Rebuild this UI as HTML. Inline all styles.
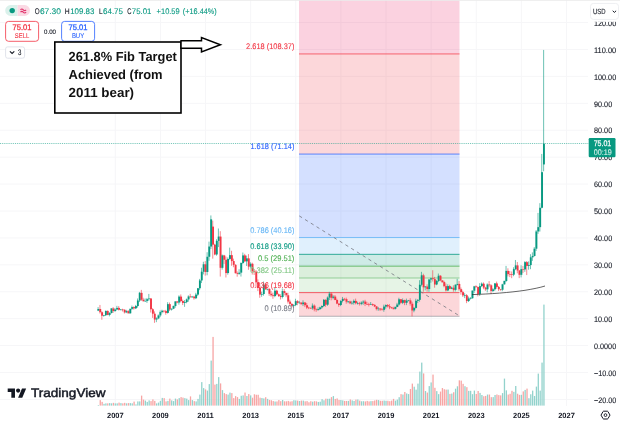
<!DOCTYPE html>
<html><head><meta charset="utf-8"><title>Chart</title>
<style>
html,body{margin:0;padding:0;background:#fff;}
body{width:620px;height:423px;overflow:hidden;position:relative;font-family:"Liberation Sans",sans-serif;}
svg{position:absolute;left:0;top:0;display:block;will-change:transform;opacity:0.999}
text{font-family:"Liberation Sans",sans-serif;text-rendering:geometricPrecision;}
</style></head><body>
<svg width="620" height="423" viewBox="0 0 620 423">
<rect width="620" height="423" fill="#ffffff"/>
<line x1="0" y1="399.44" x2="588" y2="399.44" stroke="#f6f6f8" stroke-width="1"/>
<line x1="0" y1="372.52" x2="588" y2="372.52" stroke="#f6f6f8" stroke-width="1"/>
<line x1="0" y1="345.60" x2="588" y2="345.60" stroke="#f6f6f8" stroke-width="1"/>
<line x1="0" y1="318.68" x2="588" y2="318.68" stroke="#f6f6f8" stroke-width="1"/>
<line x1="0" y1="291.76" x2="588" y2="291.76" stroke="#f6f6f8" stroke-width="1"/>
<line x1="0" y1="264.84" x2="588" y2="264.84" stroke="#f6f6f8" stroke-width="1"/>
<line x1="0" y1="237.92" x2="588" y2="237.92" stroke="#f6f6f8" stroke-width="1"/>
<line x1="0" y1="211.00" x2="588" y2="211.00" stroke="#f6f6f8" stroke-width="1"/>
<line x1="0" y1="184.08" x2="588" y2="184.08" stroke="#f6f6f8" stroke-width="1"/>
<line x1="0" y1="157.16" x2="588" y2="157.16" stroke="#f6f6f8" stroke-width="1"/>
<line x1="0" y1="130.24" x2="588" y2="130.24" stroke="#f6f6f8" stroke-width="1"/>
<line x1="0" y1="103.32" x2="588" y2="103.32" stroke="#f6f6f8" stroke-width="1"/>
<line x1="0" y1="76.40" x2="588" y2="76.40" stroke="#f6f6f8" stroke-width="1"/>
<line x1="0" y1="49.48" x2="588" y2="49.48" stroke="#f6f6f8" stroke-width="1"/>
<line x1="0" y1="22.56" x2="588" y2="22.56" stroke="#f6f6f8" stroke-width="1"/>
<line x1="115.30" y1="0" x2="115.30" y2="406" stroke="#f6f6f8" stroke-width="1"/>
<line x1="160.42" y1="0" x2="160.42" y2="406" stroke="#f6f6f8" stroke-width="1"/>
<line x1="205.54" y1="0" x2="205.54" y2="406" stroke="#f6f6f8" stroke-width="1"/>
<line x1="250.66" y1="0" x2="250.66" y2="406" stroke="#f6f6f8" stroke-width="1"/>
<line x1="295.78" y1="0" x2="295.78" y2="406" stroke="#f6f6f8" stroke-width="1"/>
<line x1="340.90" y1="0" x2="340.90" y2="406" stroke="#f6f6f8" stroke-width="1"/>
<line x1="386.02" y1="0" x2="386.02" y2="406" stroke="#f6f6f8" stroke-width="1"/>
<line x1="431.14" y1="0" x2="431.14" y2="406" stroke="#f6f6f8" stroke-width="1"/>
<line x1="476.26" y1="0" x2="476.26" y2="406" stroke="#f6f6f8" stroke-width="1"/>
<line x1="521.38" y1="0" x2="521.38" y2="406" stroke="#f6f6f8" stroke-width="1"/>
<line x1="566.50" y1="0" x2="566.50" y2="406" stroke="#f6f6f8" stroke-width="1"/>
<rect x="299" y="292.62" width="160.5" height="23.66" fill="#f23645" fill-opacity="0.2"/>
<rect x="299" y="278.00" width="160.5" height="14.62" fill="#81c784" fill-opacity="0.2"/>
<rect x="299" y="266.16" width="160.5" height="11.84" fill="#4caf50" fill-opacity="0.2"/>
<rect x="299" y="254.34" width="160.5" height="11.82" fill="#089981" fill-opacity="0.2"/>
<rect x="299" y="237.49" width="160.5" height="16.85" fill="#64b5f6" fill-opacity="0.2"/>
<rect x="299" y="154.09" width="160.5" height="83.40" fill="#2962ff" fill-opacity="0.2"/>
<rect x="299" y="53.87" width="160.5" height="100.22" fill="#f23645" fill-opacity="0.2"/>
<rect x="299" y="0.00" width="160.5" height="53.87" fill="#e91e63" fill-opacity="0.2"/>
<line x1="299" y1="316.28" x2="459.5" y2="316.28" stroke="#787b86" stroke-width="1" stroke-opacity="0.55"/>
<line x1="299" y1="292.62" x2="459.5" y2="292.62" stroke="#f23645" stroke-width="1" stroke-opacity="0.8"/>
<line x1="299" y1="278.00" x2="459.5" y2="278.00" stroke="#81c784" stroke-width="1" stroke-opacity="0.8"/>
<line x1="299" y1="266.16" x2="459.5" y2="266.16" stroke="#4caf50" stroke-width="1" stroke-opacity="0.8"/>
<line x1="299" y1="254.34" x2="459.5" y2="254.34" stroke="#089981" stroke-width="1" stroke-opacity="0.8"/>
<line x1="299" y1="237.49" x2="459.5" y2="237.49" stroke="#64b5f6" stroke-width="1" stroke-opacity="0.8"/>
<line x1="299" y1="154.09" x2="459.5" y2="154.09" stroke="#2962ff" stroke-width="1.7" stroke-opacity="0.42"/>
<line x1="299" y1="53.87" x2="459.5" y2="53.87" stroke="#f23645" stroke-width="1.7" stroke-opacity="0.42"/>
<line x1="299" y1="215.75" x2="459.5" y2="315.9" stroke="#74767f" stroke-width="0.8" stroke-dasharray="3.3 3.5" stroke-dashoffset="-0.3"/>
<rect x="97.73" y="405.00" width="1.3" height="0.60" fill="#92d2cc"/>
<rect x="99.61" y="400.10" width="1.3" height="5.50" fill="#f7a5a4"/>
<rect x="101.49" y="401.85" width="1.3" height="3.75" fill="#f7a5a4"/>
<rect x="103.37" y="403.85" width="1.3" height="1.75" fill="#92d2cc"/>
<rect x="105.25" y="403.35" width="1.3" height="2.25" fill="#92d2cc"/>
<rect x="107.13" y="403.35" width="1.3" height="2.25" fill="#f7a5a4"/>
<rect x="109.01" y="403.10" width="1.3" height="2.50" fill="#92d2cc"/>
<rect x="110.89" y="403.35" width="1.3" height="2.25" fill="#92d2cc"/>
<rect x="112.77" y="402.85" width="1.3" height="2.75" fill="#f7a5a4"/>
<rect x="114.65" y="403.35" width="1.3" height="2.25" fill="#92d2cc"/>
<rect x="116.53" y="403.35" width="1.3" height="2.25" fill="#92d2cc"/>
<rect x="118.41" y="402.60" width="1.3" height="3.00" fill="#f7a5a4"/>
<rect x="120.29" y="403.10" width="1.3" height="2.50" fill="#92d2cc"/>
<rect x="122.17" y="403.35" width="1.3" height="2.25" fill="#f7a5a4"/>
<rect x="124.05" y="402.85" width="1.3" height="2.75" fill="#f7a5a4"/>
<rect x="125.93" y="403.35" width="1.3" height="2.25" fill="#92d2cc"/>
<rect x="127.81" y="403.10" width="1.3" height="2.50" fill="#f7a5a4"/>
<rect x="129.69" y="403.10" width="1.3" height="2.50" fill="#92d2cc"/>
<rect x="131.57" y="403.35" width="1.3" height="2.25" fill="#92d2cc"/>
<rect x="133.45" y="401.60" width="1.3" height="4.00" fill="#f7a5a4"/>
<rect x="135.33" y="404.40" width="1.3" height="1.20" fill="#92d2cc"/>
<rect x="137.21" y="401.40" width="1.3" height="4.20" fill="#92d2cc"/>
<rect x="139.09" y="401.40" width="1.3" height="4.20" fill="#92d2cc"/>
<rect x="140.97" y="395.60" width="1.3" height="10.00" fill="#f7a5a4"/>
<rect x="142.85" y="399.60" width="1.3" height="6.00" fill="#f7a5a4"/>
<rect x="144.73" y="400.60" width="1.3" height="5.00" fill="#92d2cc"/>
<rect x="146.61" y="401.90" width="1.3" height="3.70" fill="#92d2cc"/>
<rect x="148.49" y="400.40" width="1.3" height="5.20" fill="#92d2cc"/>
<rect x="150.37" y="401.10" width="1.3" height="4.50" fill="#f7a5a4"/>
<rect x="152.25" y="399.40" width="1.3" height="6.20" fill="#f7a5a4"/>
<rect x="154.13" y="400.90" width="1.3" height="4.70" fill="#f7a5a4"/>
<rect x="156.01" y="403.40" width="1.3" height="2.20" fill="#92d2cc"/>
<rect x="157.89" y="402.60" width="1.3" height="3.00" fill="#92d2cc"/>
<rect x="159.77" y="400.90" width="1.3" height="4.70" fill="#92d2cc"/>
<rect x="161.65" y="397.90" width="1.3" height="7.70" fill="#92d2cc"/>
<rect x="163.53" y="398.10" width="1.3" height="7.50" fill="#f7a5a4"/>
<rect x="165.41" y="401.40" width="1.3" height="4.20" fill="#f7a5a4"/>
<rect x="167.29" y="400.90" width="1.3" height="4.70" fill="#92d2cc"/>
<rect x="169.17" y="398.60" width="1.3" height="7.00" fill="#f7a5a4"/>
<rect x="171.05" y="400.40" width="1.3" height="5.20" fill="#92d2cc"/>
<rect x="172.93" y="401.10" width="1.3" height="4.50" fill="#92d2cc"/>
<rect x="174.81" y="398.60" width="1.3" height="7.00" fill="#92d2cc"/>
<rect x="176.69" y="399.40" width="1.3" height="6.20" fill="#f7a5a4"/>
<rect x="178.57" y="398.10" width="1.3" height="7.50" fill="#92d2cc"/>
<rect x="180.45" y="397.10" width="1.3" height="8.50" fill="#f7a5a4"/>
<rect x="182.33" y="397.60" width="1.3" height="8.00" fill="#f7a5a4"/>
<rect x="184.21" y="398.10" width="1.3" height="7.50" fill="#92d2cc"/>
<rect x="186.09" y="398.60" width="1.3" height="7.00" fill="#92d2cc"/>
<rect x="187.97" y="400.10" width="1.3" height="5.50" fill="#92d2cc"/>
<rect x="189.85" y="396.40" width="1.3" height="9.20" fill="#f7a5a4"/>
<rect x="191.73" y="400.10" width="1.3" height="5.50" fill="#92d2cc"/>
<rect x="193.61" y="401.10" width="1.3" height="4.50" fill="#f7a5a4"/>
<rect x="195.49" y="401.40" width="1.3" height="4.20" fill="#92d2cc"/>
<rect x="197.37" y="398.90" width="1.3" height="6.70" fill="#92d2cc"/>
<rect x="199.25" y="394.60" width="1.3" height="11.00" fill="#92d2cc"/>
<rect x="201.13" y="382.10" width="1.3" height="23.50" fill="#92d2cc"/>
<rect x="203.01" y="388.10" width="1.3" height="17.50" fill="#92d2cc"/>
<rect x="204.89" y="389.40" width="1.3" height="16.20" fill="#f7a5a4"/>
<rect x="206.77" y="390.60" width="1.3" height="15.00" fill="#92d2cc"/>
<rect x="208.65" y="384.10" width="1.3" height="21.50" fill="#92d2cc"/>
<rect x="210.53" y="360.60" width="1.3" height="45.00" fill="#92d2cc"/>
<rect x="212.41" y="336.90" width="1.3" height="68.70" fill="#f7a5a4"/>
<rect x="214.29" y="384.60" width="1.3" height="21.00" fill="#f7a5a4"/>
<rect x="216.17" y="383.90" width="1.3" height="21.70" fill="#92d2cc"/>
<rect x="218.05" y="377.10" width="1.3" height="28.50" fill="#92d2cc"/>
<rect x="219.93" y="383.40" width="1.3" height="22.20" fill="#f7a5a4"/>
<rect x="221.81" y="390.10" width="1.3" height="15.50" fill="#92d2cc"/>
<rect x="223.69" y="393.10" width="1.3" height="12.50" fill="#f7a5a4"/>
<rect x="225.57" y="394.10" width="1.3" height="11.50" fill="#f7a5a4"/>
<rect x="227.45" y="394.60" width="1.3" height="11.00" fill="#92d2cc"/>
<rect x="229.33" y="392.60" width="1.3" height="13.00" fill="#92d2cc"/>
<rect x="231.21" y="393.10" width="1.3" height="12.50" fill="#f7a5a4"/>
<rect x="233.09" y="398.10" width="1.3" height="7.50" fill="#f7a5a4"/>
<rect x="234.97" y="396.10" width="1.3" height="9.50" fill="#f7a5a4"/>
<rect x="236.85" y="397.10" width="1.3" height="8.50" fill="#f7a5a4"/>
<rect x="238.73" y="398.90" width="1.3" height="6.70" fill="#92d2cc"/>
<rect x="240.61" y="395.76" width="1.3" height="9.84" fill="#92d2cc"/>
<rect x="242.49" y="395.41" width="1.3" height="10.19" fill="#92d2cc"/>
<rect x="244.37" y="392.53" width="1.3" height="13.07" fill="#f7a5a4"/>
<rect x="246.25" y="395.99" width="1.3" height="9.61" fill="#92d2cc"/>
<rect x="248.13" y="394.05" width="1.3" height="11.55" fill="#f7a5a4"/>
<rect x="250.01" y="395.38" width="1.3" height="10.22" fill="#92d2cc"/>
<rect x="251.89" y="397.69" width="1.3" height="7.91" fill="#f7a5a4"/>
<rect x="253.77" y="394.28" width="1.3" height="11.32" fill="#f7a5a4"/>
<rect x="255.65" y="394.75" width="1.3" height="10.85" fill="#f7a5a4"/>
<rect x="257.53" y="394.77" width="1.3" height="10.83" fill="#f7a5a4"/>
<rect x="259.41" y="397.66" width="1.3" height="7.94" fill="#f7a5a4"/>
<rect x="261.29" y="398.01" width="1.3" height="7.59" fill="#92d2cc"/>
<rect x="263.17" y="398.42" width="1.3" height="7.18" fill="#92d2cc"/>
<rect x="265.05" y="397.20" width="1.3" height="8.40" fill="#f7a5a4"/>
<rect x="266.93" y="398.87" width="1.3" height="6.73" fill="#92d2cc"/>
<rect x="268.81" y="399.93" width="1.3" height="5.67" fill="#f7a5a4"/>
<rect x="270.69" y="400.26" width="1.3" height="5.34" fill="#f7a5a4"/>
<rect x="272.57" y="401.05" width="1.3" height="4.55" fill="#f7a5a4"/>
<rect x="274.45" y="401.54" width="1.3" height="4.06" fill="#92d2cc"/>
<rect x="276.33" y="401.47" width="1.3" height="4.13" fill="#f7a5a4"/>
<rect x="278.21" y="400.07" width="1.3" height="5.53" fill="#f7a5a4"/>
<rect x="280.09" y="401.18" width="1.3" height="4.42" fill="#f7a5a4"/>
<rect x="281.97" y="399.97" width="1.3" height="5.63" fill="#92d2cc"/>
<rect x="283.85" y="401.33" width="1.3" height="4.27" fill="#f7a5a4"/>
<rect x="285.73" y="401.33" width="1.3" height="4.27" fill="#f7a5a4"/>
<rect x="287.61" y="400.91" width="1.3" height="4.69" fill="#f7a5a4"/>
<rect x="289.49" y="401.55" width="1.3" height="4.05" fill="#f7a5a4"/>
<rect x="291.37" y="401.25" width="1.3" height="4.35" fill="#f7a5a4"/>
<rect x="293.25" y="400.23" width="1.3" height="5.37" fill="#92d2cc"/>
<rect x="295.13" y="400.41" width="1.3" height="5.19" fill="#92d2cc"/>
<rect x="297.01" y="400.61" width="1.3" height="4.99" fill="#f7a5a4"/>
<rect x="298.89" y="401.00" width="1.3" height="4.60" fill="#92d2cc"/>
<rect x="300.77" y="400.57" width="1.3" height="5.03" fill="#f7a5a4"/>
<rect x="302.65" y="400.60" width="1.3" height="5.00" fill="#92d2cc"/>
<rect x="304.53" y="401.33" width="1.3" height="4.27" fill="#f7a5a4"/>
<rect x="306.41" y="401.11" width="1.3" height="4.49" fill="#f7a5a4"/>
<rect x="308.29" y="402.27" width="1.3" height="3.33" fill="#f7a5a4"/>
<rect x="310.17" y="401.23" width="1.3" height="4.37" fill="#f7a5a4"/>
<rect x="312.05" y="401.68" width="1.3" height="3.92" fill="#92d2cc"/>
<rect x="313.93" y="401.20" width="1.3" height="4.40" fill="#f7a5a4"/>
<rect x="315.81" y="401.37" width="1.3" height="4.23" fill="#f7a5a4"/>
<rect x="317.69" y="401.94" width="1.3" height="3.66" fill="#92d2cc"/>
<rect x="319.57" y="401.71" width="1.3" height="3.89" fill="#92d2cc"/>
<rect x="321.45" y="399.16" width="1.3" height="6.44" fill="#92d2cc"/>
<rect x="323.33" y="400.28" width="1.3" height="5.32" fill="#92d2cc"/>
<rect x="325.21" y="398.68" width="1.3" height="6.92" fill="#f7a5a4"/>
<rect x="327.09" y="398.80" width="1.3" height="6.80" fill="#92d2cc"/>
<rect x="328.97" y="398.71" width="1.3" height="6.89" fill="#92d2cc"/>
<rect x="330.85" y="397.11" width="1.3" height="8.49" fill="#f7a5a4"/>
<rect x="332.73" y="396.08" width="1.3" height="9.52" fill="#92d2cc"/>
<rect x="334.61" y="398.93" width="1.3" height="6.67" fill="#f7a5a4"/>
<rect x="336.49" y="398.43" width="1.3" height="7.17" fill="#f7a5a4"/>
<rect x="338.37" y="399.96" width="1.3" height="5.64" fill="#f7a5a4"/>
<rect x="340.25" y="399.97" width="1.3" height="5.63" fill="#92d2cc"/>
<rect x="342.13" y="400.37" width="1.3" height="5.23" fill="#92d2cc"/>
<rect x="344.01" y="400.90" width="1.3" height="4.70" fill="#f7a5a4"/>
<rect x="345.89" y="400.95" width="1.3" height="4.65" fill="#f7a5a4"/>
<rect x="347.77" y="400.89" width="1.3" height="4.71" fill="#92d2cc"/>
<rect x="349.65" y="399.45" width="1.3" height="6.15" fill="#f7a5a4"/>
<rect x="351.53" y="400.36" width="1.3" height="5.24" fill="#92d2cc"/>
<rect x="353.41" y="400.97" width="1.3" height="4.63" fill="#92d2cc"/>
<rect x="355.29" y="399.59" width="1.3" height="6.01" fill="#f7a5a4"/>
<rect x="357.17" y="399.46" width="1.3" height="6.14" fill="#92d2cc"/>
<rect x="359.05" y="400.62" width="1.3" height="4.98" fill="#f7a5a4"/>
<rect x="360.93" y="401.29" width="1.3" height="4.31" fill="#92d2cc"/>
<rect x="362.81" y="401.22" width="1.3" height="4.38" fill="#92d2cc"/>
<rect x="364.69" y="401.42" width="1.3" height="4.18" fill="#f7a5a4"/>
<rect x="366.57" y="400.92" width="1.3" height="4.68" fill="#f7a5a4"/>
<rect x="368.45" y="401.42" width="1.3" height="4.18" fill="#f7a5a4"/>
<rect x="370.33" y="401.12" width="1.3" height="4.48" fill="#92d2cc"/>
<rect x="372.21" y="401.08" width="1.3" height="4.52" fill="#f7a5a4"/>
<rect x="374.09" y="400.46" width="1.3" height="5.14" fill="#f7a5a4"/>
<rect x="375.97" y="399.83" width="1.3" height="5.77" fill="#f7a5a4"/>
<rect x="377.85" y="400.10" width="1.3" height="5.50" fill="#92d2cc"/>
<rect x="379.73" y="400.77" width="1.3" height="4.83" fill="#f7a5a4"/>
<rect x="381.61" y="400.77" width="1.3" height="4.83" fill="#f7a5a4"/>
<rect x="383.49" y="400.55" width="1.3" height="5.05" fill="#92d2cc"/>
<rect x="385.37" y="400.85" width="1.3" height="4.75" fill="#92d2cc"/>
<rect x="387.25" y="400.77" width="1.3" height="4.83" fill="#f7a5a4"/>
<rect x="389.13" y="401.20" width="1.3" height="4.40" fill="#f7a5a4"/>
<rect x="391.01" y="400.59" width="1.3" height="5.01" fill="#f7a5a4"/>
<rect x="392.89" y="398.87" width="1.3" height="6.73" fill="#f7a5a4"/>
<rect x="394.77" y="400.64" width="1.3" height="4.96" fill="#92d2cc"/>
<rect x="396.65" y="399.59" width="1.3" height="6.01" fill="#92d2cc"/>
<rect x="398.53" y="397.19" width="1.3" height="8.41" fill="#92d2cc"/>
<rect x="400.41" y="394.15" width="1.3" height="11.45" fill="#f7a5a4"/>
<rect x="402.29" y="394.52" width="1.3" height="11.08" fill="#92d2cc"/>
<rect x="404.17" y="391.97" width="1.3" height="13.63" fill="#f7a5a4"/>
<rect x="406.05" y="393.46" width="1.3" height="12.14" fill="#92d2cc"/>
<rect x="407.93" y="394.08" width="1.3" height="11.52" fill="#92d2cc"/>
<rect x="409.81" y="388.97" width="1.3" height="16.63" fill="#f7a5a4"/>
<rect x="411.69" y="383.60" width="1.3" height="22.00" fill="#f7a5a4"/>
<rect x="413.57" y="386.69" width="1.3" height="18.91" fill="#92d2cc"/>
<rect x="415.45" y="389.65" width="1.3" height="15.95" fill="#92d2cc"/>
<rect x="417.33" y="383.60" width="1.3" height="22.00" fill="#92d2cc"/>
<rect x="419.21" y="371.60" width="1.3" height="34.00" fill="#92d2cc"/>
<rect x="421.09" y="362.60" width="1.3" height="43.00" fill="#92d2cc"/>
<rect x="422.97" y="373.42" width="1.3" height="32.18" fill="#f7a5a4"/>
<rect x="424.85" y="391.04" width="1.3" height="14.56" fill="#92d2cc"/>
<rect x="426.73" y="392.59" width="1.3" height="13.01" fill="#f7a5a4"/>
<rect x="428.61" y="386.09" width="1.3" height="19.51" fill="#92d2cc"/>
<rect x="430.49" y="382.43" width="1.3" height="23.17" fill="#92d2cc"/>
<rect x="432.37" y="374.60" width="1.3" height="31.00" fill="#f7a5a4"/>
<rect x="434.25" y="387.79" width="1.3" height="17.81" fill="#f7a5a4"/>
<rect x="436.13" y="391.11" width="1.3" height="14.49" fill="#92d2cc"/>
<rect x="438.01" y="394.13" width="1.3" height="11.47" fill="#92d2cc"/>
<rect x="439.89" y="391.57" width="1.3" height="14.03" fill="#f7a5a4"/>
<rect x="441.77" y="388.04" width="1.3" height="17.56" fill="#f7a5a4"/>
<rect x="443.65" y="389.21" width="1.3" height="16.39" fill="#f7a5a4"/>
<rect x="445.53" y="389.61" width="1.3" height="15.99" fill="#f7a5a4"/>
<rect x="447.41" y="389.55" width="1.3" height="16.05" fill="#92d2cc"/>
<rect x="449.29" y="393.91" width="1.3" height="11.69" fill="#f7a5a4"/>
<rect x="451.17" y="393.58" width="1.3" height="12.02" fill="#92d2cc"/>
<rect x="453.05" y="392.24" width="1.3" height="13.36" fill="#f7a5a4"/>
<rect x="454.93" y="388.70" width="1.3" height="16.90" fill="#92d2cc"/>
<rect x="456.81" y="386.29" width="1.3" height="19.31" fill="#92d2cc"/>
<rect x="458.69" y="380.30" width="1.3" height="25.30" fill="#f7a5a4"/>
<rect x="460.57" y="380.60" width="1.3" height="25.00" fill="#f7a5a4"/>
<rect x="462.45" y="383.83" width="1.3" height="21.77" fill="#f7a5a4"/>
<rect x="464.33" y="386.19" width="1.3" height="19.41" fill="#92d2cc"/>
<rect x="466.21" y="387.17" width="1.3" height="18.43" fill="#f7a5a4"/>
<rect x="468.09" y="390.86" width="1.3" height="14.74" fill="#92d2cc"/>
<rect x="469.97" y="390.80" width="1.3" height="14.80" fill="#92d2cc"/>
<rect x="471.85" y="394.18" width="1.3" height="11.42" fill="#92d2cc"/>
<rect x="473.73" y="390.58" width="1.3" height="15.02" fill="#92d2cc"/>
<rect x="475.61" y="393.99" width="1.3" height="11.61" fill="#f7a5a4"/>
<rect x="477.49" y="391.00" width="1.3" height="14.60" fill="#f7a5a4"/>
<rect x="479.37" y="392.90" width="1.3" height="12.70" fill="#92d2cc"/>
<rect x="481.25" y="395.00" width="1.3" height="10.60" fill="#92d2cc"/>
<rect x="483.13" y="396.24" width="1.3" height="9.36" fill="#f7a5a4"/>
<rect x="485.01" y="395.92" width="1.3" height="9.68" fill="#f7a5a4"/>
<rect x="486.89" y="394.53" width="1.3" height="11.07" fill="#92d2cc"/>
<rect x="488.77" y="394.54" width="1.3" height="11.06" fill="#f7a5a4"/>
<rect x="490.65" y="397.15" width="1.3" height="8.45" fill="#f7a5a4"/>
<rect x="492.53" y="397.11" width="1.3" height="8.49" fill="#92d2cc"/>
<rect x="494.41" y="395.00" width="1.3" height="10.60" fill="#92d2cc"/>
<rect x="496.29" y="394.49" width="1.3" height="11.11" fill="#f7a5a4"/>
<rect x="498.17" y="395.09" width="1.3" height="10.51" fill="#f7a5a4"/>
<rect x="500.05" y="395.37" width="1.3" height="10.23" fill="#f7a5a4"/>
<rect x="501.93" y="393.11" width="1.3" height="12.49" fill="#92d2cc"/>
<rect x="503.81" y="378.60" width="1.3" height="27.00" fill="#92d2cc"/>
<rect x="505.69" y="390.32" width="1.3" height="15.28" fill="#92d2cc"/>
<rect x="507.57" y="394.55" width="1.3" height="11.05" fill="#f7a5a4"/>
<rect x="509.45" y="393.79" width="1.3" height="11.81" fill="#f7a5a4"/>
<rect x="511.33" y="390.81" width="1.3" height="14.79" fill="#f7a5a4"/>
<rect x="513.21" y="391.85" width="1.3" height="13.75" fill="#92d2cc"/>
<rect x="515.09" y="385.99" width="1.3" height="19.61" fill="#92d2cc"/>
<rect x="516.97" y="393.72" width="1.3" height="11.88" fill="#f7a5a4"/>
<rect x="518.85" y="394.87" width="1.3" height="10.73" fill="#f7a5a4"/>
<rect x="520.73" y="394.81" width="1.3" height="10.79" fill="#92d2cc"/>
<rect x="522.61" y="391.39" width="1.3" height="14.21" fill="#f7a5a4"/>
<rect x="524.49" y="389.91" width="1.3" height="15.69" fill="#92d2cc"/>
<rect x="526.37" y="388.60" width="1.3" height="17.00" fill="#f7a5a4"/>
<rect x="528.25" y="398.22" width="1.3" height="7.38" fill="#92d2cc"/>
<rect x="530.13" y="394.28" width="1.3" height="11.32" fill="#92d2cc"/>
<rect x="532.01" y="390.61" width="1.3" height="14.99" fill="#92d2cc"/>
<rect x="533.89" y="395.97" width="1.3" height="9.63" fill="#92d2cc"/>
<rect x="535.77" y="386.60" width="1.3" height="19.00" fill="#92d2cc"/>
<rect x="537.65" y="373.60" width="1.3" height="32.00" fill="#92d2cc"/>
<rect x="539.53" y="390.60" width="1.3" height="15.00" fill="#92d2cc"/>
<rect x="541.41" y="362.60" width="1.3" height="43.00" fill="#92d2cc"/>
<rect x="543.29" y="304.60" width="1.3" height="101.00" fill="#92d2cc"/>
<line x1="98.08" y1="307.10" x2="98.08" y2="311.14" stroke="#089981" stroke-width="0.8" stroke-opacity="0.75"/>
<rect x="97.43" y="308.99" width="1.9" height="1.62" fill="#089981"/>
<line x1="99.96" y1="304.95" x2="99.96" y2="313.57" stroke="#f23645" stroke-width="0.8" stroke-opacity="0.75"/>
<rect x="99.31" y="308.99" width="1.9" height="3.23" fill="#f23645"/>
<line x1="101.84" y1="311.14" x2="101.84" y2="319.76" stroke="#f23645" stroke-width="0.8" stroke-opacity="0.75"/>
<rect x="101.19" y="312.22" width="1.9" height="3.50" fill="#f23645"/>
<line x1="103.72" y1="314.94" x2="103.72" y2="316.64" stroke="#089981" stroke-width="0.8" stroke-opacity="0.75"/>
<rect x="103.07" y="315.18" width="1.9" height="0.60" fill="#089981"/>
<line x1="105.60" y1="310.63" x2="105.60" y2="316.01" stroke="#089981" stroke-width="0.8" stroke-opacity="0.75"/>
<rect x="104.95" y="310.87" width="1.9" height="4.31" fill="#089981"/>
<line x1="107.48" y1="310.58" x2="107.48" y2="315.21" stroke="#f23645" stroke-width="0.8" stroke-opacity="0.75"/>
<rect x="106.83" y="310.87" width="1.9" height="4.04" fill="#f23645"/>
<line x1="109.36" y1="312.16" x2="109.36" y2="316.36" stroke="#089981" stroke-width="0.8" stroke-opacity="0.75"/>
<rect x="108.71" y="313.03" width="1.9" height="1.88" fill="#089981"/>
<line x1="111.24" y1="308.03" x2="111.24" y2="313.56" stroke="#089981" stroke-width="0.8" stroke-opacity="0.75"/>
<rect x="110.59" y="308.45" width="1.9" height="4.58" fill="#089981"/>
<line x1="113.12" y1="307.08" x2="113.12" y2="312.85" stroke="#f23645" stroke-width="0.8" stroke-opacity="0.75"/>
<rect x="112.47" y="308.45" width="1.9" height="2.56" fill="#f23645"/>
<line x1="115.00" y1="308.29" x2="115.00" y2="311.88" stroke="#089981" stroke-width="0.8" stroke-opacity="0.75"/>
<rect x="114.35" y="309.53" width="1.9" height="1.48" fill="#089981"/>
<line x1="116.88" y1="305.85" x2="116.88" y2="309.79" stroke="#089981" stroke-width="0.8" stroke-opacity="0.75"/>
<rect x="116.23" y="307.91" width="1.9" height="1.62" fill="#089981"/>
<line x1="118.76" y1="306.07" x2="118.76" y2="310.50" stroke="#f23645" stroke-width="0.8" stroke-opacity="0.75"/>
<rect x="118.11" y="307.91" width="1.9" height="1.88" fill="#f23645"/>
<line x1="120.64" y1="309.08" x2="120.64" y2="310.19" stroke="#089981" stroke-width="0.8" stroke-opacity="0.75"/>
<rect x="119.99" y="309.53" width="1.9" height="0.60" fill="#089981"/>
<line x1="122.52" y1="308.78" x2="122.52" y2="311.47" stroke="#f23645" stroke-width="0.8" stroke-opacity="0.75"/>
<rect x="121.87" y="309.53" width="1.9" height="0.60" fill="#f23645"/>
<line x1="124.40" y1="309.29" x2="124.40" y2="313.51" stroke="#f23645" stroke-width="0.8" stroke-opacity="0.75"/>
<rect x="123.75" y="309.80" width="1.9" height="2.56" fill="#f23645"/>
<line x1="126.28" y1="309.85" x2="126.28" y2="313.15" stroke="#089981" stroke-width="0.8" stroke-opacity="0.75"/>
<rect x="125.63" y="311.14" width="1.9" height="1.21" fill="#089981"/>
<line x1="128.16" y1="310.01" x2="128.16" y2="313.56" stroke="#f23645" stroke-width="0.8" stroke-opacity="0.75"/>
<rect x="127.51" y="311.14" width="1.9" height="2.15" fill="#f23645"/>
<line x1="130.04" y1="308.56" x2="130.04" y2="313.80" stroke="#089981" stroke-width="0.8" stroke-opacity="0.75"/>
<rect x="129.39" y="308.85" width="1.9" height="4.44" fill="#089981"/>
<line x1="131.92" y1="305.58" x2="131.92" y2="309.84" stroke="#089981" stroke-width="0.8" stroke-opacity="0.75"/>
<rect x="131.27" y="307.10" width="1.9" height="1.75" fill="#089981"/>
<line x1="133.80" y1="306.30" x2="133.80" y2="309.62" stroke="#f23645" stroke-width="0.8" stroke-opacity="0.75"/>
<rect x="133.15" y="307.10" width="1.9" height="1.21" fill="#f23645"/>
<line x1="135.68" y1="304.92" x2="135.68" y2="309.07" stroke="#089981" stroke-width="0.8" stroke-opacity="0.75"/>
<rect x="135.03" y="306.03" width="1.9" height="2.29" fill="#089981"/>
<line x1="137.56" y1="298.46" x2="137.56" y2="307.64" stroke="#089981" stroke-width="0.8" stroke-opacity="0.75"/>
<rect x="136.91" y="300.51" width="1.9" height="5.52" fill="#089981"/>
<line x1="139.44" y1="291.92" x2="139.44" y2="302.06" stroke="#089981" stroke-width="0.8" stroke-opacity="0.75"/>
<rect x="138.79" y="292.84" width="1.9" height="7.67" fill="#089981"/>
<line x1="141.32" y1="289.88" x2="141.32" y2="300.91" stroke="#f23645" stroke-width="0.8" stroke-opacity="0.75"/>
<rect x="140.67" y="292.84" width="1.9" height="6.86" fill="#f23645"/>
<line x1="143.20" y1="297.76" x2="143.20" y2="301.92" stroke="#f23645" stroke-width="0.8" stroke-opacity="0.75"/>
<rect x="142.55" y="299.70" width="1.9" height="1.35" fill="#f23645"/>
<line x1="145.08" y1="298.46" x2="145.08" y2="301.54" stroke="#089981" stroke-width="0.8" stroke-opacity="0.75"/>
<rect x="144.43" y="300.91" width="1.9" height="0.60" fill="#089981"/>
<line x1="146.96" y1="297.94" x2="146.96" y2="302.86" stroke="#089981" stroke-width="0.8" stroke-opacity="0.75"/>
<rect x="146.31" y="299.16" width="1.9" height="1.75" fill="#089981"/>
<line x1="148.84" y1="293.91" x2="148.84" y2="300.55" stroke="#089981" stroke-width="0.8" stroke-opacity="0.75"/>
<rect x="148.19" y="298.49" width="1.9" height="0.67" fill="#089981"/>
<line x1="150.72" y1="298.16" x2="150.72" y2="312.49" stroke="#f23645" stroke-width="0.8" stroke-opacity="0.75"/>
<rect x="150.07" y="298.49" width="1.9" height="10.77" fill="#f23645"/>
<line x1="152.60" y1="308.18" x2="152.60" y2="317.87" stroke="#f23645" stroke-width="0.8" stroke-opacity="0.75"/>
<rect x="151.95" y="309.26" width="1.9" height="4.44" fill="#f23645"/>
<line x1="154.48" y1="311.41" x2="154.48" y2="322.85" stroke="#f23645" stroke-width="0.8" stroke-opacity="0.75"/>
<rect x="153.83" y="313.70" width="1.9" height="5.79" fill="#f23645"/>
<line x1="156.36" y1="317.31" x2="156.36" y2="322.18" stroke="#089981" stroke-width="0.8" stroke-opacity="0.75"/>
<rect x="155.71" y="318.41" width="1.9" height="1.08" fill="#089981"/>
<line x1="158.24" y1="314.41" x2="158.24" y2="319.18" stroke="#089981" stroke-width="0.8" stroke-opacity="0.75"/>
<rect x="157.59" y="315.45" width="1.9" height="2.96" fill="#089981"/>
<line x1="160.12" y1="310.48" x2="160.12" y2="317.05" stroke="#089981" stroke-width="0.8" stroke-opacity="0.75"/>
<rect x="159.47" y="312.08" width="1.9" height="3.37" fill="#089981"/>
<line x1="162.00" y1="309.72" x2="162.00" y2="313.39" stroke="#089981" stroke-width="0.8" stroke-opacity="0.75"/>
<rect x="161.35" y="310.74" width="1.9" height="1.35" fill="#089981"/>
<line x1="163.88" y1="310.46" x2="163.88" y2="312.55" stroke="#f23645" stroke-width="0.8" stroke-opacity="0.75"/>
<rect x="163.23" y="310.74" width="1.9" height="0.60" fill="#f23645"/>
<line x1="165.76" y1="309.83" x2="165.76" y2="314.71" stroke="#f23645" stroke-width="0.8" stroke-opacity="0.75"/>
<rect x="165.11" y="311.14" width="1.9" height="1.75" fill="#f23645"/>
<line x1="167.64" y1="302.20" x2="167.64" y2="313.53" stroke="#089981" stroke-width="0.8" stroke-opacity="0.75"/>
<rect x="166.99" y="304.14" width="1.9" height="8.75" fill="#089981"/>
<line x1="169.52" y1="302.53" x2="169.52" y2="310.94" stroke="#f23645" stroke-width="0.8" stroke-opacity="0.75"/>
<rect x="168.87" y="304.14" width="1.9" height="5.38" fill="#f23645"/>
<line x1="171.40" y1="308.49" x2="171.40" y2="310.56" stroke="#089981" stroke-width="0.8" stroke-opacity="0.75"/>
<rect x="170.75" y="308.72" width="1.9" height="0.81" fill="#089981"/>
<line x1="173.28" y1="305.49" x2="173.28" y2="309.12" stroke="#089981" stroke-width="0.8" stroke-opacity="0.75"/>
<rect x="172.63" y="306.03" width="1.9" height="2.69" fill="#089981"/>
<line x1="175.16" y1="301.10" x2="175.16" y2="307.78" stroke="#089981" stroke-width="0.8" stroke-opacity="0.75"/>
<rect x="174.51" y="301.45" width="1.9" height="4.58" fill="#089981"/>
<line x1="177.04" y1="300.94" x2="177.04" y2="303.29" stroke="#f23645" stroke-width="0.8" stroke-opacity="0.75"/>
<rect x="176.39" y="301.45" width="1.9" height="1.08" fill="#f23645"/>
<line x1="178.92" y1="295.38" x2="178.92" y2="304.66" stroke="#089981" stroke-width="0.8" stroke-opacity="0.75"/>
<rect x="178.27" y="296.61" width="1.9" height="5.92" fill="#089981"/>
<line x1="180.80" y1="294.45" x2="180.80" y2="302.29" stroke="#f23645" stroke-width="0.8" stroke-opacity="0.75"/>
<rect x="180.15" y="296.61" width="1.9" height="4.44" fill="#f23645"/>
<line x1="182.68" y1="299.58" x2="182.68" y2="305.07" stroke="#f23645" stroke-width="0.8" stroke-opacity="0.75"/>
<rect x="182.03" y="301.05" width="1.9" height="1.88" fill="#f23645"/>
<line x1="184.56" y1="300.09" x2="184.56" y2="306.84" stroke="#089981" stroke-width="0.8" stroke-opacity="0.75"/>
<rect x="183.91" y="302.12" width="1.9" height="0.81" fill="#089981"/>
<line x1="186.44" y1="298.55" x2="186.44" y2="303.26" stroke="#089981" stroke-width="0.8" stroke-opacity="0.75"/>
<rect x="185.79" y="299.43" width="1.9" height="2.69" fill="#089981"/>
<line x1="188.32" y1="295.33" x2="188.32" y2="301.74" stroke="#089981" stroke-width="0.8" stroke-opacity="0.75"/>
<rect x="187.67" y="296.47" width="1.9" height="2.96" fill="#089981"/>
<line x1="190.20" y1="293.83" x2="190.20" y2="297.76" stroke="#f23645" stroke-width="0.8" stroke-opacity="0.75"/>
<rect x="189.55" y="296.47" width="1.9" height="0.67" fill="#f23645"/>
<line x1="192.08" y1="295.92" x2="192.08" y2="297.96" stroke="#089981" stroke-width="0.8" stroke-opacity="0.75"/>
<rect x="191.43" y="296.61" width="1.9" height="0.60" fill="#089981"/>
<line x1="193.96" y1="295.78" x2="193.96" y2="299.63" stroke="#f23645" stroke-width="0.8" stroke-opacity="0.75"/>
<rect x="193.31" y="296.61" width="1.9" height="1.62" fill="#f23645"/>
<line x1="195.84" y1="292.80" x2="195.84" y2="299.09" stroke="#089981" stroke-width="0.8" stroke-opacity="0.75"/>
<rect x="195.19" y="294.59" width="1.9" height="3.63" fill="#089981"/>
<line x1="197.72" y1="287.96" x2="197.72" y2="295.93" stroke="#089981" stroke-width="0.8" stroke-opacity="0.75"/>
<rect x="197.07" y="288.26" width="1.9" height="6.33" fill="#089981"/>
<line x1="199.60" y1="278.90" x2="199.60" y2="290.20" stroke="#089981" stroke-width="0.8" stroke-opacity="0.75"/>
<rect x="198.95" y="280.45" width="1.9" height="7.81" fill="#089981"/>
<line x1="201.48" y1="267.74" x2="201.48" y2="283.07" stroke="#089981" stroke-width="0.8" stroke-opacity="0.75"/>
<rect x="200.83" y="271.70" width="1.9" height="8.75" fill="#089981"/>
<line x1="203.36" y1="261.76" x2="203.36" y2="274.40" stroke="#089981" stroke-width="0.8" stroke-opacity="0.75"/>
<rect x="202.71" y="264.30" width="1.9" height="7.40" fill="#089981"/>
<line x1="205.24" y1="261.09" x2="205.24" y2="275.61" stroke="#f23645" stroke-width="0.8" stroke-opacity="0.75"/>
<rect x="204.59" y="264.30" width="1.9" height="7.67" fill="#f23645"/>
<line x1="207.12" y1="252.24" x2="207.12" y2="275.27" stroke="#089981" stroke-width="0.8" stroke-opacity="0.75"/>
<rect x="206.47" y="256.76" width="1.9" height="15.21" fill="#089981"/>
<line x1="209.00" y1="241.62" x2="209.00" y2="260.82" stroke="#089981" stroke-width="0.8" stroke-opacity="0.75"/>
<rect x="208.35" y="246.53" width="1.9" height="10.23" fill="#089981"/>
<line x1="210.88" y1="215.44" x2="210.88" y2="249.05" stroke="#089981" stroke-width="0.8" stroke-opacity="0.75"/>
<rect x="210.23" y="219.35" width="1.9" height="27.19" fill="#089981"/>
<line x1="212.76" y1="220.69" x2="212.76" y2="258.65" stroke="#f23645" stroke-width="0.8" stroke-opacity="0.75"/>
<rect x="212.11" y="226.61" width="1.9" height="18.04" fill="#f23645"/>
<line x1="214.64" y1="243.82" x2="214.64" y2="255.24" stroke="#f23645" stroke-width="0.8" stroke-opacity="0.75"/>
<rect x="213.99" y="244.65" width="1.9" height="9.83" fill="#f23645"/>
<line x1="216.52" y1="239.24" x2="216.52" y2="255.69" stroke="#089981" stroke-width="0.8" stroke-opacity="0.75"/>
<rect x="215.87" y="240.88" width="1.9" height="13.59" fill="#089981"/>
<line x1="218.40" y1="228.50" x2="218.40" y2="247.07" stroke="#089981" stroke-width="0.8" stroke-opacity="0.75"/>
<rect x="217.75" y="236.57" width="1.9" height="4.31" fill="#089981"/>
<line x1="220.28" y1="231.19" x2="220.28" y2="276.55" stroke="#f23645" stroke-width="0.8" stroke-opacity="0.75"/>
<rect x="219.63" y="236.57" width="1.9" height="31.23" fill="#f23645"/>
<line x1="222.16" y1="254.50" x2="222.16" y2="269.63" stroke="#089981" stroke-width="0.8" stroke-opacity="0.75"/>
<rect x="221.51" y="255.42" width="1.9" height="12.38" fill="#089981"/>
<line x1="224.04" y1="254.85" x2="224.04" y2="263.98" stroke="#f23645" stroke-width="0.8" stroke-opacity="0.75"/>
<rect x="223.39" y="255.42" width="1.9" height="4.31" fill="#f23645"/>
<line x1="225.92" y1="256.61" x2="225.92" y2="277.49" stroke="#f23645" stroke-width="0.8" stroke-opacity="0.75"/>
<rect x="225.27" y="259.73" width="1.9" height="13.33" fill="#f23645"/>
<line x1="227.80" y1="257.37" x2="227.80" y2="274.70" stroke="#089981" stroke-width="0.8" stroke-opacity="0.75"/>
<rect x="227.15" y="258.92" width="1.9" height="14.13" fill="#089981"/>
<line x1="229.68" y1="247.61" x2="229.68" y2="259.89" stroke="#089981" stroke-width="0.8" stroke-opacity="0.75"/>
<rect x="229.03" y="255.15" width="1.9" height="3.77" fill="#089981"/>
<line x1="231.56" y1="250.78" x2="231.56" y2="265.78" stroke="#f23645" stroke-width="0.8" stroke-opacity="0.75"/>
<rect x="230.91" y="255.15" width="1.9" height="5.92" fill="#f23645"/>
<line x1="233.44" y1="258.64" x2="233.44" y2="267.24" stroke="#f23645" stroke-width="0.8" stroke-opacity="0.75"/>
<rect x="232.79" y="261.07" width="1.9" height="3.77" fill="#f23645"/>
<line x1="235.32" y1="264.08" x2="235.32" y2="273.79" stroke="#f23645" stroke-width="0.8" stroke-opacity="0.75"/>
<rect x="234.67" y="264.84" width="1.9" height="8.21" fill="#f23645"/>
<line x1="237.20" y1="271.42" x2="237.20" y2="276.68" stroke="#f23645" stroke-width="0.8" stroke-opacity="0.75"/>
<rect x="236.55" y="273.05" width="1.9" height="0.81" fill="#f23645"/>
<line x1="239.08" y1="269.20" x2="239.08" y2="274.81" stroke="#089981" stroke-width="0.8" stroke-opacity="0.75"/>
<rect x="238.43" y="272.65" width="1.9" height="1.21" fill="#089981"/>
<line x1="240.96" y1="262.45" x2="240.96" y2="276.55" stroke="#089981" stroke-width="0.8" stroke-opacity="0.75"/>
<rect x="240.31" y="262.96" width="1.9" height="9.69" fill="#089981"/>
<line x1="242.84" y1="252.54" x2="242.84" y2="263.99" stroke="#089981" stroke-width="0.8" stroke-opacity="0.75"/>
<rect x="242.19" y="255.42" width="1.9" height="7.54" fill="#089981"/>
<line x1="244.72" y1="253.80" x2="244.72" y2="261.88" stroke="#f23645" stroke-width="0.8" stroke-opacity="0.75"/>
<rect x="244.07" y="255.42" width="1.9" height="5.92" fill="#f23645"/>
<line x1="246.60" y1="255.59" x2="246.60" y2="265.97" stroke="#089981" stroke-width="0.8" stroke-opacity="0.75"/>
<rect x="245.95" y="258.38" width="1.9" height="2.96" fill="#089981"/>
<line x1="248.48" y1="254.10" x2="248.48" y2="269.79" stroke="#f23645" stroke-width="0.8" stroke-opacity="0.75"/>
<rect x="247.83" y="258.38" width="1.9" height="8.21" fill="#f23645"/>
<line x1="250.36" y1="262.26" x2="250.36" y2="268.46" stroke="#089981" stroke-width="0.8" stroke-opacity="0.75"/>
<rect x="249.71" y="263.76" width="1.9" height="2.83" fill="#089981"/>
<line x1="252.24" y1="262.66" x2="252.24" y2="274.60" stroke="#f23645" stroke-width="0.8" stroke-opacity="0.75"/>
<rect x="251.59" y="263.76" width="1.9" height="7.54" fill="#f23645"/>
<line x1="254.12" y1="268.91" x2="254.12" y2="275.01" stroke="#f23645" stroke-width="0.8" stroke-opacity="0.75"/>
<rect x="253.47" y="271.30" width="1.9" height="0.60" fill="#f23645"/>
<line x1="256.00" y1="270.09" x2="256.00" y2="287.18" stroke="#f23645" stroke-width="0.8" stroke-opacity="0.75"/>
<rect x="255.35" y="271.70" width="1.9" height="10.63" fill="#f23645"/>
<line x1="257.88" y1="279.40" x2="257.88" y2="291.05" stroke="#f23645" stroke-width="0.8" stroke-opacity="0.75"/>
<rect x="257.23" y="282.34" width="1.9" height="5.52" fill="#f23645"/>
<line x1="259.76" y1="285.06" x2="259.76" y2="297.82" stroke="#f23645" stroke-width="0.8" stroke-opacity="0.75"/>
<rect x="259.11" y="287.86" width="1.9" height="6.73" fill="#f23645"/>
<line x1="261.64" y1="291.64" x2="261.64" y2="296.77" stroke="#089981" stroke-width="0.8" stroke-opacity="0.75"/>
<rect x="260.99" y="294.05" width="1.9" height="0.60" fill="#089981"/>
<line x1="263.52" y1="281.53" x2="263.52" y2="295.67" stroke="#089981" stroke-width="0.8" stroke-opacity="0.75"/>
<rect x="262.87" y="284.63" width="1.9" height="9.42" fill="#089981"/>
<line x1="265.40" y1="283.22" x2="265.40" y2="289.70" stroke="#f23645" stroke-width="0.8" stroke-opacity="0.75"/>
<rect x="264.75" y="284.63" width="1.9" height="4.71" fill="#f23645"/>
<line x1="267.28" y1="288.57" x2="267.28" y2="290.42" stroke="#089981" stroke-width="0.8" stroke-opacity="0.75"/>
<rect x="266.63" y="288.93" width="1.9" height="0.60" fill="#089981"/>
<line x1="269.16" y1="287.90" x2="269.16" y2="295.87" stroke="#f23645" stroke-width="0.8" stroke-opacity="0.75"/>
<rect x="268.51" y="288.93" width="1.9" height="4.85" fill="#f23645"/>
<line x1="271.04" y1="290.99" x2="271.04" y2="296.66" stroke="#f23645" stroke-width="0.8" stroke-opacity="0.75"/>
<rect x="270.39" y="293.78" width="1.9" height="1.48" fill="#f23645"/>
<line x1="272.92" y1="292.60" x2="272.92" y2="298.81" stroke="#f23645" stroke-width="0.8" stroke-opacity="0.75"/>
<rect x="272.27" y="295.26" width="1.9" height="0.81" fill="#f23645"/>
<line x1="274.80" y1="287.73" x2="274.80" y2="297.24" stroke="#089981" stroke-width="0.8" stroke-opacity="0.75"/>
<rect x="274.15" y="290.68" width="1.9" height="5.38" fill="#089981"/>
<line x1="276.68" y1="289.79" x2="276.68" y2="295.17" stroke="#f23645" stroke-width="0.8" stroke-opacity="0.75"/>
<rect x="276.03" y="290.68" width="1.9" height="3.63" fill="#f23645"/>
<line x1="278.56" y1="293.55" x2="278.56" y2="296.83" stroke="#f23645" stroke-width="0.8" stroke-opacity="0.75"/>
<rect x="277.91" y="294.32" width="1.9" height="1.75" fill="#f23645"/>
<line x1="280.44" y1="294.24" x2="280.44" y2="299.48" stroke="#f23645" stroke-width="0.8" stroke-opacity="0.75"/>
<rect x="279.79" y="296.07" width="1.9" height="0.94" fill="#f23645"/>
<line x1="282.32" y1="288.48" x2="282.32" y2="298.44" stroke="#089981" stroke-width="0.8" stroke-opacity="0.75"/>
<rect x="281.67" y="291.09" width="1.9" height="5.92" fill="#089981"/>
<line x1="284.20" y1="289.00" x2="284.20" y2="295.38" stroke="#f23645" stroke-width="0.8" stroke-opacity="0.75"/>
<rect x="283.55" y="291.09" width="1.9" height="1.88" fill="#f23645"/>
<line x1="286.08" y1="292.48" x2="286.08" y2="297.21" stroke="#f23645" stroke-width="0.8" stroke-opacity="0.75"/>
<rect x="285.43" y="292.97" width="1.9" height="2.29" fill="#f23645"/>
<line x1="287.96" y1="292.67" x2="287.96" y2="303.56" stroke="#f23645" stroke-width="0.8" stroke-opacity="0.75"/>
<rect x="287.31" y="295.26" width="1.9" height="6.33" fill="#f23645"/>
<line x1="289.84" y1="299.68" x2="289.84" y2="305.10" stroke="#f23645" stroke-width="0.8" stroke-opacity="0.75"/>
<rect x="289.19" y="301.59" width="1.9" height="2.29" fill="#f23645"/>
<line x1="291.72" y1="303.29" x2="291.72" y2="307.56" stroke="#f23645" stroke-width="0.8" stroke-opacity="0.75"/>
<rect x="291.07" y="303.87" width="1.9" height="1.88" fill="#f23645"/>
<line x1="293.60" y1="304.20" x2="293.60" y2="307.58" stroke="#089981" stroke-width="0.8" stroke-opacity="0.75"/>
<rect x="292.95" y="305.09" width="1.9" height="0.67" fill="#089981"/>
<line x1="295.48" y1="298.76" x2="295.48" y2="306.11" stroke="#089981" stroke-width="0.8" stroke-opacity="0.75"/>
<rect x="294.83" y="301.18" width="1.9" height="3.90" fill="#089981"/>
<line x1="297.36" y1="300.05" x2="297.36" y2="305.21" stroke="#f23645" stroke-width="0.8" stroke-opacity="0.75"/>
<rect x="296.71" y="301.18" width="1.9" height="1.75" fill="#f23645"/>
<line x1="299.24" y1="300.86" x2="299.24" y2="303.52" stroke="#089981" stroke-width="0.8" stroke-opacity="0.75"/>
<rect x="298.59" y="302.66" width="1.9" height="0.60" fill="#089981"/>
<line x1="301.12" y1="302.17" x2="301.12" y2="304.67" stroke="#f23645" stroke-width="0.8" stroke-opacity="0.75"/>
<rect x="300.47" y="302.66" width="1.9" height="1.48" fill="#f23645"/>
<line x1="303.00" y1="300.32" x2="303.00" y2="306.06" stroke="#089981" stroke-width="0.8" stroke-opacity="0.75"/>
<rect x="302.35" y="302.53" width="1.9" height="1.62" fill="#089981"/>
<line x1="304.88" y1="301.99" x2="304.88" y2="307.12" stroke="#f23645" stroke-width="0.8" stroke-opacity="0.75"/>
<rect x="304.23" y="302.53" width="1.9" height="2.69" fill="#f23645"/>
<line x1="306.76" y1="303.00" x2="306.76" y2="309.10" stroke="#f23645" stroke-width="0.8" stroke-opacity="0.75"/>
<rect x="306.11" y="305.22" width="1.9" height="2.42" fill="#f23645"/>
<line x1="308.64" y1="306.77" x2="308.64" y2="309.16" stroke="#f23645" stroke-width="0.8" stroke-opacity="0.75"/>
<rect x="307.99" y="307.64" width="1.9" height="0.60" fill="#f23645"/>
<line x1="310.52" y1="307.47" x2="310.52" y2="308.53" stroke="#f23645" stroke-width="0.8" stroke-opacity="0.75"/>
<rect x="309.87" y="307.91" width="1.9" height="0.60" fill="#f23645"/>
<line x1="312.40" y1="303.44" x2="312.40" y2="309.74" stroke="#089981" stroke-width="0.8" stroke-opacity="0.75"/>
<rect x="311.75" y="305.62" width="1.9" height="2.69" fill="#089981"/>
<line x1="314.28" y1="304.35" x2="314.28" y2="311.30" stroke="#f23645" stroke-width="0.8" stroke-opacity="0.75"/>
<rect x="313.63" y="305.62" width="1.9" height="3.77" fill="#f23645"/>
<line x1="316.16" y1="308.41" x2="316.16" y2="311.82" stroke="#f23645" stroke-width="0.8" stroke-opacity="0.75"/>
<rect x="315.51" y="309.39" width="1.9" height="0.67" fill="#f23645"/>
<line x1="318.04" y1="307.40" x2="318.04" y2="310.63" stroke="#089981" stroke-width="0.8" stroke-opacity="0.75"/>
<rect x="317.39" y="309.12" width="1.9" height="0.94" fill="#089981"/>
<line x1="319.92" y1="306.69" x2="319.92" y2="309.85" stroke="#089981" stroke-width="0.8" stroke-opacity="0.75"/>
<rect x="319.27" y="307.37" width="1.9" height="1.75" fill="#089981"/>
<line x1="321.80" y1="305.34" x2="321.80" y2="308.71" stroke="#089981" stroke-width="0.8" stroke-opacity="0.75"/>
<rect x="321.15" y="306.03" width="1.9" height="1.35" fill="#089981"/>
<line x1="323.68" y1="299.00" x2="323.68" y2="307.07" stroke="#089981" stroke-width="0.8" stroke-opacity="0.75"/>
<rect x="323.03" y="299.84" width="1.9" height="6.19" fill="#089981"/>
<line x1="325.56" y1="299.30" x2="325.56" y2="306.79" stroke="#f23645" stroke-width="0.8" stroke-opacity="0.75"/>
<rect x="324.91" y="299.84" width="1.9" height="4.85" fill="#f23645"/>
<line x1="327.44" y1="296.44" x2="327.44" y2="305.84" stroke="#089981" stroke-width="0.8" stroke-opacity="0.75"/>
<rect x="326.79" y="297.55" width="1.9" height="7.13" fill="#089981"/>
<line x1="329.32" y1="291.84" x2="329.32" y2="300.00" stroke="#089981" stroke-width="0.8" stroke-opacity="0.75"/>
<rect x="328.67" y="293.64" width="1.9" height="3.90" fill="#089981"/>
<line x1="331.20" y1="292.27" x2="331.20" y2="300.29" stroke="#f23645" stroke-width="0.8" stroke-opacity="0.75"/>
<rect x="330.55" y="293.64" width="1.9" height="4.17" fill="#f23645"/>
<line x1="333.08" y1="295.11" x2="333.08" y2="299.35" stroke="#089981" stroke-width="0.8" stroke-opacity="0.75"/>
<rect x="332.43" y="296.61" width="1.9" height="1.21" fill="#089981"/>
<line x1="334.96" y1="295.05" x2="334.96" y2="300.24" stroke="#f23645" stroke-width="0.8" stroke-opacity="0.75"/>
<rect x="334.31" y="296.61" width="1.9" height="3.36" fill="#f23645"/>
<line x1="336.84" y1="298.72" x2="336.84" y2="304.21" stroke="#f23645" stroke-width="0.8" stroke-opacity="0.75"/>
<rect x="336.19" y="299.97" width="1.9" height="3.63" fill="#f23645"/>
<line x1="338.72" y1="303.39" x2="338.72" y2="306.81" stroke="#f23645" stroke-width="0.8" stroke-opacity="0.75"/>
<rect x="338.07" y="303.60" width="1.9" height="1.35" fill="#f23645"/>
<line x1="340.60" y1="300.30" x2="340.60" y2="306.14" stroke="#089981" stroke-width="0.8" stroke-opacity="0.75"/>
<rect x="339.95" y="300.91" width="1.9" height="4.04" fill="#089981"/>
<line x1="342.48" y1="296.93" x2="342.48" y2="302.40" stroke="#089981" stroke-width="0.8" stroke-opacity="0.75"/>
<rect x="341.83" y="298.89" width="1.9" height="2.02" fill="#089981"/>
<line x1="344.36" y1="297.88" x2="344.36" y2="300.62" stroke="#f23645" stroke-width="0.8" stroke-opacity="0.75"/>
<rect x="343.71" y="298.89" width="1.9" height="0.60" fill="#f23645"/>
<line x1="346.24" y1="297.62" x2="346.24" y2="303.69" stroke="#f23645" stroke-width="0.8" stroke-opacity="0.75"/>
<rect x="345.59" y="299.16" width="1.9" height="2.56" fill="#f23645"/>
<line x1="348.12" y1="300.99" x2="348.12" y2="303.19" stroke="#089981" stroke-width="0.8" stroke-opacity="0.75"/>
<rect x="347.47" y="301.45" width="1.9" height="0.60" fill="#089981"/>
<line x1="350.00" y1="300.67" x2="350.00" y2="304.14" stroke="#f23645" stroke-width="0.8" stroke-opacity="0.75"/>
<rect x="349.35" y="301.45" width="1.9" height="1.88" fill="#f23645"/>
<line x1="351.88" y1="300.90" x2="351.88" y2="304.64" stroke="#089981" stroke-width="0.8" stroke-opacity="0.75"/>
<rect x="351.23" y="302.80" width="1.9" height="0.60" fill="#089981"/>
<line x1="353.76" y1="299.41" x2="353.76" y2="304.67" stroke="#089981" stroke-width="0.8" stroke-opacity="0.75"/>
<rect x="353.11" y="300.91" width="1.9" height="1.88" fill="#089981"/>
<line x1="355.64" y1="298.61" x2="355.64" y2="304.37" stroke="#f23645" stroke-width="0.8" stroke-opacity="0.75"/>
<rect x="354.99" y="300.91" width="1.9" height="2.29" fill="#f23645"/>
<line x1="357.52" y1="301.66" x2="357.52" y2="304.51" stroke="#089981" stroke-width="0.8" stroke-opacity="0.75"/>
<rect x="356.87" y="303.20" width="1.9" height="0.60" fill="#089981"/>
<line x1="359.40" y1="301.88" x2="359.40" y2="305.56" stroke="#f23645" stroke-width="0.8" stroke-opacity="0.75"/>
<rect x="358.75" y="303.20" width="1.9" height="0.67" fill="#f23645"/>
<line x1="361.28" y1="301.32" x2="361.28" y2="305.22" stroke="#089981" stroke-width="0.8" stroke-opacity="0.75"/>
<rect x="360.63" y="302.53" width="1.9" height="1.35" fill="#089981"/>
<line x1="363.16" y1="300.29" x2="363.16" y2="304.81" stroke="#089981" stroke-width="0.8" stroke-opacity="0.75"/>
<rect x="362.51" y="301.59" width="1.9" height="0.94" fill="#089981"/>
<line x1="365.04" y1="299.80" x2="365.04" y2="306.08" stroke="#f23645" stroke-width="0.8" stroke-opacity="0.75"/>
<rect x="364.39" y="301.59" width="1.9" height="2.42" fill="#f23645"/>
<line x1="366.92" y1="301.80" x2="366.92" y2="304.90" stroke="#f23645" stroke-width="0.8" stroke-opacity="0.75"/>
<rect x="366.27" y="304.01" width="1.9" height="0.60" fill="#f23645"/>
<line x1="368.80" y1="302.75" x2="368.80" y2="306.47" stroke="#f23645" stroke-width="0.8" stroke-opacity="0.75"/>
<rect x="368.15" y="304.14" width="1.9" height="0.60" fill="#f23645"/>
<line x1="370.68" y1="302.02" x2="370.68" y2="304.77" stroke="#089981" stroke-width="0.8" stroke-opacity="0.75"/>
<rect x="370.03" y="304.01" width="1.9" height="0.60" fill="#089981"/>
<line x1="372.56" y1="303.54" x2="372.56" y2="305.94" stroke="#f23645" stroke-width="0.8" stroke-opacity="0.75"/>
<rect x="371.91" y="304.01" width="1.9" height="0.81" fill="#f23645"/>
<line x1="374.44" y1="304.46" x2="374.44" y2="307.11" stroke="#f23645" stroke-width="0.8" stroke-opacity="0.75"/>
<rect x="373.79" y="304.82" width="1.9" height="1.62" fill="#f23645"/>
<line x1="376.32" y1="306.09" x2="376.32" y2="310.42" stroke="#f23645" stroke-width="0.8" stroke-opacity="0.75"/>
<rect x="375.67" y="306.43" width="1.9" height="2.56" fill="#f23645"/>
<line x1="378.20" y1="306.92" x2="378.20" y2="310.85" stroke="#089981" stroke-width="0.8" stroke-opacity="0.75"/>
<rect x="377.55" y="308.59" width="1.9" height="0.60" fill="#089981"/>
<line x1="380.08" y1="308.11" x2="380.08" y2="311.03" stroke="#f23645" stroke-width="0.8" stroke-opacity="0.75"/>
<rect x="379.43" y="308.59" width="1.9" height="0.94" fill="#f23645"/>
<line x1="381.96" y1="308.13" x2="381.96" y2="310.24" stroke="#f23645" stroke-width="0.8" stroke-opacity="0.75"/>
<rect x="381.31" y="309.53" width="1.9" height="0.60" fill="#f23645"/>
<line x1="383.84" y1="304.61" x2="383.84" y2="311.74" stroke="#089981" stroke-width="0.8" stroke-opacity="0.75"/>
<rect x="383.19" y="306.57" width="1.9" height="3.23" fill="#089981"/>
<line x1="385.72" y1="304.43" x2="385.72" y2="308.66" stroke="#089981" stroke-width="0.8" stroke-opacity="0.75"/>
<rect x="385.07" y="305.09" width="1.9" height="1.48" fill="#089981"/>
<line x1="387.60" y1="304.06" x2="387.60" y2="307.47" stroke="#f23645" stroke-width="0.8" stroke-opacity="0.75"/>
<rect x="386.95" y="305.09" width="1.9" height="1.21" fill="#f23645"/>
<line x1="389.48" y1="304.12" x2="389.48" y2="309.19" stroke="#f23645" stroke-width="0.8" stroke-opacity="0.75"/>
<rect x="388.83" y="306.30" width="1.9" height="1.08" fill="#f23645"/>
<line x1="391.36" y1="306.87" x2="391.36" y2="308.93" stroke="#f23645" stroke-width="0.8" stroke-opacity="0.75"/>
<rect x="390.71" y="307.37" width="1.9" height="0.60" fill="#f23645"/>
<line x1="393.24" y1="306.73" x2="393.24" y2="309.67" stroke="#f23645" stroke-width="0.8" stroke-opacity="0.75"/>
<rect x="392.59" y="307.91" width="1.9" height="0.94" fill="#f23645"/>
<line x1="395.12" y1="306.39" x2="395.12" y2="309.63" stroke="#089981" stroke-width="0.8" stroke-opacity="0.75"/>
<rect x="394.47" y="306.97" width="1.9" height="1.88" fill="#089981"/>
<line x1="397.00" y1="302.83" x2="397.00" y2="307.20" stroke="#089981" stroke-width="0.8" stroke-opacity="0.75"/>
<rect x="396.35" y="304.55" width="1.9" height="2.42" fill="#089981"/>
<line x1="398.88" y1="297.76" x2="398.88" y2="305.67" stroke="#089981" stroke-width="0.8" stroke-opacity="0.75"/>
<rect x="398.23" y="299.30" width="1.9" height="5.25" fill="#089981"/>
<line x1="400.76" y1="299.02" x2="400.76" y2="303.73" stroke="#f23645" stroke-width="0.8" stroke-opacity="0.75"/>
<rect x="400.11" y="299.30" width="1.9" height="3.50" fill="#f23645"/>
<line x1="402.64" y1="298.43" x2="402.64" y2="304.13" stroke="#089981" stroke-width="0.8" stroke-opacity="0.75"/>
<rect x="401.99" y="300.11" width="1.9" height="2.69" fill="#089981"/>
<line x1="404.52" y1="299.73" x2="404.52" y2="305.16" stroke="#f23645" stroke-width="0.8" stroke-opacity="0.75"/>
<rect x="403.87" y="300.11" width="1.9" height="2.69" fill="#f23645"/>
<line x1="406.40" y1="298.61" x2="406.40" y2="305.13" stroke="#089981" stroke-width="0.8" stroke-opacity="0.75"/>
<rect x="405.75" y="300.64" width="1.9" height="2.15" fill="#089981"/>
<line x1="408.28" y1="299.91" x2="408.28" y2="301.48" stroke="#089981" stroke-width="0.8" stroke-opacity="0.75"/>
<rect x="407.63" y="300.37" width="1.9" height="0.60" fill="#089981"/>
<line x1="410.16" y1="298.22" x2="410.16" y2="305.61" stroke="#f23645" stroke-width="0.8" stroke-opacity="0.75"/>
<rect x="409.51" y="300.37" width="1.9" height="3.37" fill="#f23645"/>
<line x1="412.04" y1="301.72" x2="412.04" y2="316.36" stroke="#f23645" stroke-width="0.8" stroke-opacity="0.75"/>
<rect x="411.39" y="303.74" width="1.9" height="6.73" fill="#f23645"/>
<line x1="413.92" y1="306.91" x2="413.92" y2="312.28" stroke="#089981" stroke-width="0.8" stroke-opacity="0.75"/>
<rect x="413.27" y="307.91" width="1.9" height="2.56" fill="#089981"/>
<line x1="415.80" y1="298.68" x2="415.80" y2="308.60" stroke="#089981" stroke-width="0.8" stroke-opacity="0.75"/>
<rect x="415.15" y="300.78" width="1.9" height="7.13" fill="#089981"/>
<line x1="417.68" y1="299.26" x2="417.68" y2="303.10" stroke="#089981" stroke-width="0.8" stroke-opacity="0.75"/>
<rect x="417.03" y="299.84" width="1.9" height="0.94" fill="#089981"/>
<line x1="419.56" y1="280.18" x2="419.56" y2="301.70" stroke="#089981" stroke-width="0.8" stroke-opacity="0.75"/>
<rect x="418.91" y="284.76" width="1.9" height="15.08" fill="#089981"/>
<line x1="421.44" y1="271.84" x2="421.44" y2="286.38" stroke="#089981" stroke-width="0.8" stroke-opacity="0.75"/>
<rect x="420.79" y="275.34" width="1.9" height="9.42" fill="#089981"/>
<line x1="423.32" y1="273.72" x2="423.32" y2="291.76" stroke="#f23645" stroke-width="0.8" stroke-opacity="0.75"/>
<rect x="422.67" y="275.34" width="1.9" height="11.98" fill="#f23645"/>
<line x1="425.20" y1="286.00" x2="425.20" y2="290.40" stroke="#089981" stroke-width="0.8" stroke-opacity="0.75"/>
<rect x="424.55" y="286.51" width="1.9" height="0.81" fill="#089981"/>
<line x1="427.08" y1="284.30" x2="427.08" y2="291.66" stroke="#f23645" stroke-width="0.8" stroke-opacity="0.75"/>
<rect x="426.43" y="286.51" width="1.9" height="2.56" fill="#f23645"/>
<line x1="428.96" y1="278.90" x2="428.96" y2="291.82" stroke="#089981" stroke-width="0.8" stroke-opacity="0.75"/>
<rect x="428.31" y="279.51" width="1.9" height="9.56" fill="#089981"/>
<line x1="430.84" y1="277.73" x2="430.84" y2="282.75" stroke="#089981" stroke-width="0.8" stroke-opacity="0.75"/>
<rect x="430.19" y="278.30" width="1.9" height="1.21" fill="#089981"/>
<line x1="432.72" y1="270.28" x2="432.72" y2="281.53" stroke="#f23645" stroke-width="0.8" stroke-opacity="0.75"/>
<rect x="432.07" y="278.30" width="1.9" height="0.81" fill="#f23645"/>
<line x1="434.60" y1="276.90" x2="434.60" y2="287.69" stroke="#f23645" stroke-width="0.8" stroke-opacity="0.75"/>
<rect x="433.95" y="279.11" width="1.9" height="5.38" fill="#f23645"/>
<line x1="436.48" y1="279.79" x2="436.48" y2="285.20" stroke="#089981" stroke-width="0.8" stroke-opacity="0.75"/>
<rect x="435.83" y="280.99" width="1.9" height="3.50" fill="#089981"/>
<line x1="438.36" y1="273.52" x2="438.36" y2="282.10" stroke="#089981" stroke-width="0.8" stroke-opacity="0.75"/>
<rect x="437.71" y="275.74" width="1.9" height="5.25" fill="#089981"/>
<line x1="440.24" y1="275.00" x2="440.24" y2="281.32" stroke="#f23645" stroke-width="0.8" stroke-opacity="0.75"/>
<rect x="439.59" y="275.74" width="1.9" height="4.71" fill="#f23645"/>
<line x1="442.12" y1="279.96" x2="442.12" y2="283.04" stroke="#f23645" stroke-width="0.8" stroke-opacity="0.75"/>
<rect x="441.47" y="280.45" width="1.9" height="1.62" fill="#f23645"/>
<line x1="444.00" y1="280.74" x2="444.00" y2="287.33" stroke="#f23645" stroke-width="0.8" stroke-opacity="0.75"/>
<rect x="443.35" y="282.07" width="1.9" height="4.04" fill="#f23645"/>
<line x1="445.88" y1="283.50" x2="445.88" y2="291.51" stroke="#f23645" stroke-width="0.8" stroke-opacity="0.75"/>
<rect x="445.23" y="286.11" width="1.9" height="4.31" fill="#f23645"/>
<line x1="447.76" y1="284.29" x2="447.76" y2="291.19" stroke="#089981" stroke-width="0.8" stroke-opacity="0.75"/>
<rect x="447.11" y="286.11" width="1.9" height="4.31" fill="#089981"/>
<line x1="449.64" y1="284.76" x2="449.64" y2="289.14" stroke="#f23645" stroke-width="0.8" stroke-opacity="0.75"/>
<rect x="448.99" y="286.11" width="1.9" height="2.69" fill="#f23645"/>
<line x1="451.52" y1="286.69" x2="451.52" y2="289.13" stroke="#089981" stroke-width="0.8" stroke-opacity="0.75"/>
<rect x="450.87" y="287.72" width="1.9" height="1.08" fill="#089981"/>
<line x1="453.40" y1="285.27" x2="453.40" y2="291.72" stroke="#f23645" stroke-width="0.8" stroke-opacity="0.75"/>
<rect x="452.75" y="287.72" width="1.9" height="2.15" fill="#f23645"/>
<line x1="455.28" y1="284.01" x2="455.28" y2="291.50" stroke="#089981" stroke-width="0.8" stroke-opacity="0.75"/>
<rect x="454.63" y="284.90" width="1.9" height="4.98" fill="#089981"/>
<line x1="457.16" y1="278.84" x2="457.16" y2="285.53" stroke="#089981" stroke-width="0.8" stroke-opacity="0.75"/>
<rect x="456.51" y="283.95" width="1.9" height="0.94" fill="#089981"/>
<line x1="459.04" y1="281.07" x2="459.04" y2="290.73" stroke="#f23645" stroke-width="0.8" stroke-opacity="0.75"/>
<rect x="458.39" y="283.95" width="1.9" height="5.25" fill="#f23645"/>
<line x1="460.92" y1="287.50" x2="460.92" y2="294.71" stroke="#f23645" stroke-width="0.8" stroke-opacity="0.75"/>
<rect x="460.27" y="289.20" width="1.9" height="2.96" fill="#f23645"/>
<line x1="462.80" y1="290.83" x2="462.80" y2="296.94" stroke="#f23645" stroke-width="0.8" stroke-opacity="0.75"/>
<rect x="462.15" y="292.16" width="1.9" height="3.23" fill="#f23645"/>
<line x1="464.68" y1="293.24" x2="464.68" y2="298.16" stroke="#089981" stroke-width="0.8" stroke-opacity="0.75"/>
<rect x="464.03" y="295.26" width="1.9" height="0.60" fill="#089981"/>
<line x1="466.56" y1="294.13" x2="466.56" y2="303.16" stroke="#f23645" stroke-width="0.8" stroke-opacity="0.75"/>
<rect x="465.91" y="295.26" width="1.9" height="5.79" fill="#f23645"/>
<line x1="468.44" y1="296.56" x2="468.44" y2="301.99" stroke="#089981" stroke-width="0.8" stroke-opacity="0.75"/>
<rect x="467.79" y="298.49" width="1.9" height="2.56" fill="#089981"/>
<line x1="470.32" y1="297.01" x2="470.32" y2="299.56" stroke="#089981" stroke-width="0.8" stroke-opacity="0.75"/>
<rect x="469.67" y="298.22" width="1.9" height="0.60" fill="#089981"/>
<line x1="472.20" y1="290.26" x2="472.20" y2="298.77" stroke="#089981" stroke-width="0.8" stroke-opacity="0.75"/>
<rect x="471.55" y="290.68" width="1.9" height="7.54" fill="#089981"/>
<line x1="474.08" y1="285.87" x2="474.08" y2="293.03" stroke="#089981" stroke-width="0.8" stroke-opacity="0.75"/>
<rect x="473.43" y="286.38" width="1.9" height="4.31" fill="#089981"/>
<line x1="475.96" y1="285.31" x2="475.96" y2="287.83" stroke="#f23645" stroke-width="0.8" stroke-opacity="0.75"/>
<rect x="475.31" y="286.38" width="1.9" height="0.67" fill="#f23645"/>
<line x1="477.84" y1="286.50" x2="477.84" y2="296.39" stroke="#f23645" stroke-width="0.8" stroke-opacity="0.75"/>
<rect x="477.19" y="287.05" width="1.9" height="6.86" fill="#f23645"/>
<line x1="479.72" y1="283.17" x2="479.72" y2="295.94" stroke="#089981" stroke-width="0.8" stroke-opacity="0.75"/>
<rect x="479.07" y="286.11" width="1.9" height="7.81" fill="#089981"/>
<line x1="481.60" y1="282.48" x2="481.60" y2="287.14" stroke="#089981" stroke-width="0.8" stroke-opacity="0.75"/>
<rect x="480.95" y="283.68" width="1.9" height="2.42" fill="#089981"/>
<line x1="483.48" y1="282.45" x2="483.48" y2="289.24" stroke="#f23645" stroke-width="0.8" stroke-opacity="0.75"/>
<rect x="482.83" y="283.68" width="1.9" height="3.90" fill="#f23645"/>
<line x1="485.36" y1="286.83" x2="485.36" y2="290.90" stroke="#f23645" stroke-width="0.8" stroke-opacity="0.75"/>
<rect x="484.71" y="287.59" width="1.9" height="1.75" fill="#f23645"/>
<line x1="487.24" y1="283.37" x2="487.24" y2="292.38" stroke="#089981" stroke-width="0.8" stroke-opacity="0.75"/>
<rect x="486.59" y="284.49" width="1.9" height="4.85" fill="#089981"/>
<line x1="489.12" y1="281.15" x2="489.12" y2="287.28" stroke="#f23645" stroke-width="0.8" stroke-opacity="0.75"/>
<rect x="488.47" y="284.49" width="1.9" height="0.81" fill="#f23645"/>
<line x1="491.00" y1="284.25" x2="491.00" y2="293.92" stroke="#f23645" stroke-width="0.8" stroke-opacity="0.75"/>
<rect x="490.35" y="285.30" width="1.9" height="5.65" fill="#f23645"/>
<line x1="492.88" y1="288.17" x2="492.88" y2="292.22" stroke="#089981" stroke-width="0.8" stroke-opacity="0.75"/>
<rect x="492.23" y="289.34" width="1.9" height="1.62" fill="#089981"/>
<line x1="494.76" y1="283.10" x2="494.76" y2="290.71" stroke="#089981" stroke-width="0.8" stroke-opacity="0.75"/>
<rect x="494.11" y="283.41" width="1.9" height="5.92" fill="#089981"/>
<line x1="496.64" y1="281.60" x2="496.64" y2="288.71" stroke="#f23645" stroke-width="0.8" stroke-opacity="0.75"/>
<rect x="495.99" y="283.41" width="1.9" height="3.50" fill="#f23645"/>
<line x1="498.52" y1="286.02" x2="498.52" y2="290.94" stroke="#f23645" stroke-width="0.8" stroke-opacity="0.75"/>
<rect x="497.87" y="286.91" width="1.9" height="2.29" fill="#f23645"/>
<line x1="500.40" y1="288.91" x2="500.40" y2="290.77" stroke="#f23645" stroke-width="0.8" stroke-opacity="0.75"/>
<rect x="499.75" y="289.20" width="1.9" height="0.60" fill="#f23645"/>
<line x1="502.28" y1="283.77" x2="502.28" y2="291.16" stroke="#089981" stroke-width="0.8" stroke-opacity="0.75"/>
<rect x="501.63" y="284.36" width="1.9" height="5.38" fill="#089981"/>
<line x1="504.16" y1="280.53" x2="504.16" y2="284.73" stroke="#089981" stroke-width="0.8" stroke-opacity="0.75"/>
<rect x="503.51" y="280.99" width="1.9" height="3.37" fill="#089981"/>
<line x1="506.04" y1="265.92" x2="506.04" y2="282.08" stroke="#089981" stroke-width="0.8" stroke-opacity="0.75"/>
<rect x="505.39" y="270.90" width="1.9" height="10.09" fill="#089981"/>
<line x1="507.92" y1="268.29" x2="507.92" y2="276.41" stroke="#f23645" stroke-width="0.8" stroke-opacity="0.75"/>
<rect x="507.27" y="270.90" width="1.9" height="3.23" fill="#f23645"/>
<line x1="509.80" y1="271.03" x2="509.80" y2="277.14" stroke="#f23645" stroke-width="0.8" stroke-opacity="0.75"/>
<rect x="509.15" y="274.13" width="1.9" height="0.60" fill="#f23645"/>
<line x1="511.68" y1="271.44" x2="511.68" y2="278.20" stroke="#f23645" stroke-width="0.8" stroke-opacity="0.75"/>
<rect x="511.03" y="274.40" width="1.9" height="0.60" fill="#f23645"/>
<line x1="513.56" y1="267.25" x2="513.56" y2="276.20" stroke="#089981" stroke-width="0.8" stroke-opacity="0.75"/>
<rect x="512.91" y="269.15" width="1.9" height="5.52" fill="#089981"/>
<line x1="515.44" y1="259.99" x2="515.44" y2="270.11" stroke="#089981" stroke-width="0.8" stroke-opacity="0.75"/>
<rect x="514.79" y="265.38" width="1.9" height="3.77" fill="#089981"/>
<line x1="517.32" y1="262.01" x2="517.32" y2="273.33" stroke="#f23645" stroke-width="0.8" stroke-opacity="0.75"/>
<rect x="516.67" y="265.38" width="1.9" height="5.11" fill="#f23645"/>
<line x1="519.20" y1="269.95" x2="519.20" y2="278.17" stroke="#f23645" stroke-width="0.8" stroke-opacity="0.75"/>
<rect x="518.55" y="270.49" width="1.9" height="4.31" fill="#f23645"/>
<line x1="521.08" y1="265.29" x2="521.08" y2="277.42" stroke="#089981" stroke-width="0.8" stroke-opacity="0.75"/>
<rect x="520.43" y="269.15" width="1.9" height="5.65" fill="#089981"/>
<line x1="522.96" y1="265.90" x2="522.96" y2="272.95" stroke="#f23645" stroke-width="0.8" stroke-opacity="0.75"/>
<rect x="522.31" y="269.15" width="1.9" height="0.60" fill="#f23645"/>
<line x1="524.84" y1="261.14" x2="524.84" y2="271.83" stroke="#089981" stroke-width="0.8" stroke-opacity="0.75"/>
<rect x="524.19" y="262.15" width="1.9" height="7.27" fill="#089981"/>
<line x1="526.72" y1="261.07" x2="526.72" y2="275.07" stroke="#f23645" stroke-width="0.8" stroke-opacity="0.75"/>
<rect x="526.07" y="262.15" width="1.9" height="3.77" fill="#f23645"/>
<line x1="528.60" y1="261.40" x2="528.60" y2="269.67" stroke="#089981" stroke-width="0.8" stroke-opacity="0.75"/>
<rect x="527.95" y="265.11" width="1.9" height="0.81" fill="#089981"/>
<line x1="530.48" y1="254.23" x2="530.48" y2="269.18" stroke="#089981" stroke-width="0.8" stroke-opacity="0.75"/>
<rect x="529.83" y="257.30" width="1.9" height="7.81" fill="#089981"/>
<line x1="532.36" y1="252.39" x2="532.36" y2="260.87" stroke="#089981" stroke-width="0.8" stroke-opacity="0.75"/>
<rect x="531.71" y="255.96" width="1.9" height="1.35" fill="#089981"/>
<line x1="534.24" y1="247.07" x2="534.24" y2="256.55" stroke="#089981" stroke-width="0.8" stroke-opacity="0.75"/>
<rect x="533.59" y="248.69" width="1.9" height="7.27" fill="#089981"/>
<line x1="536.12" y1="230.11" x2="536.12" y2="250.96" stroke="#089981" stroke-width="0.8" stroke-opacity="0.75"/>
<rect x="535.47" y="231.46" width="1.9" height="17.23" fill="#089981"/>
<line x1="538.00" y1="212.88" x2="538.00" y2="233.88" stroke="#089981" stroke-width="0.8" stroke-opacity="0.75"/>
<rect x="537.35" y="227.15" width="1.9" height="4.31" fill="#089981"/>
<line x1="539.88" y1="203.15" x2="539.88" y2="231.54" stroke="#089981" stroke-width="0.8" stroke-opacity="0.75"/>
<rect x="539.23" y="207.77" width="1.9" height="19.38" fill="#089981"/>
<line x1="541.76" y1="153.93" x2="541.76" y2="208.31" stroke="#089981" stroke-width="0.8" stroke-opacity="0.75"/>
<rect x="541.11" y="172.18" width="1.9" height="35.59" fill="#089981"/>
<line x1="543.64" y1="49.94" x2="543.64" y2="171.29" stroke="#089981" stroke-width="0.8" stroke-opacity="0.75"/>
<rect x="542.99" y="143.67" width="1.9" height="20.76" fill="#089981"/>
<path d="M472,294.6 C490,294 510,292.6 525,290.3 C533,289 540,287.6 545,286" fill="none" stroke="#222" stroke-width="0.7"/>
<line x1="0" y1="143.5" x2="589" y2="143.5" stroke="#089981" stroke-width="1" stroke-dasharray="0.94 0.94" stroke-opacity="0.58"/>
<rect x="588.5" y="0" width="32" height="423" fill="#fff"/>
<rect x="0" y="406.5" width="620" height="17" fill="#fff"/>
<text x="594" y="25.76" font-size="7.9" fill="#131722" text-anchor="start" font-weight="normal" stroke="#131722" stroke-width="0.1" textLength="22.2" lengthAdjust="spacingAndGlyphs">120.00</text>
<text x="594" y="52.68" font-size="7.9" fill="#131722" text-anchor="start" font-weight="normal" stroke="#131722" stroke-width="0.1" textLength="22.2" lengthAdjust="spacingAndGlyphs">110.00</text>
<text x="594" y="79.6" font-size="7.9" fill="#131722" text-anchor="start" font-weight="normal" stroke="#131722" stroke-width="0.1" textLength="22.2" lengthAdjust="spacingAndGlyphs">100.00</text>
<text x="594" y="106.52" font-size="7.9" fill="#131722" text-anchor="start" font-weight="normal" stroke="#131722" stroke-width="0.1" textLength="18.2" lengthAdjust="spacingAndGlyphs">90.00</text>
<text x="594" y="133.44" font-size="7.9" fill="#131722" text-anchor="start" font-weight="normal" stroke="#131722" stroke-width="0.1" textLength="18.2" lengthAdjust="spacingAndGlyphs">80.00</text>
<text x="594" y="160.36" font-size="7.9" fill="#131722" text-anchor="start" font-weight="normal" stroke="#131722" stroke-width="0.1" textLength="18.2" lengthAdjust="spacingAndGlyphs">70.00</text>
<text x="594" y="187.28" font-size="7.9" fill="#131722" text-anchor="start" font-weight="normal" stroke="#131722" stroke-width="0.1" textLength="18.2" lengthAdjust="spacingAndGlyphs">60.00</text>
<text x="594" y="214.2" font-size="7.9" fill="#131722" text-anchor="start" font-weight="normal" stroke="#131722" stroke-width="0.1" textLength="18.2" lengthAdjust="spacingAndGlyphs">50.00</text>
<text x="594" y="241.12" font-size="7.9" fill="#131722" text-anchor="start" font-weight="normal" stroke="#131722" stroke-width="0.1" textLength="18.2" lengthAdjust="spacingAndGlyphs">40.00</text>
<text x="594" y="268.04" font-size="7.9" fill="#131722" text-anchor="start" font-weight="normal" stroke="#131722" stroke-width="0.1" textLength="18.2" lengthAdjust="spacingAndGlyphs">30.00</text>
<text x="594" y="294.96" font-size="7.9" fill="#131722" text-anchor="start" font-weight="normal" stroke="#131722" stroke-width="0.1" textLength="18.2" lengthAdjust="spacingAndGlyphs">20.00</text>
<text x="594" y="321.88" font-size="7.9" fill="#131722" text-anchor="start" font-weight="normal" stroke="#131722" stroke-width="0.1" textLength="18.2" lengthAdjust="spacingAndGlyphs">10.00</text>
<text x="594" y="348.8" font-size="7.9" fill="#131722" text-anchor="start" font-weight="normal" stroke="#131722" stroke-width="0.1" textLength="22.2" lengthAdjust="spacingAndGlyphs">0.0000</text>
<text x="594" y="375.72" font-size="7.9" fill="#131722" text-anchor="start" font-weight="normal" stroke="#131722" stroke-width="0.1" textLength="22.2" lengthAdjust="spacingAndGlyphs">−10.00</text>
<text x="594" y="402.64" font-size="7.9" fill="#131722" text-anchor="start" font-weight="normal" stroke="#131722" stroke-width="0.1" textLength="22.2" lengthAdjust="spacingAndGlyphs">−20.00</text>
<rect x="588.5" y="0" width="32" height="21.8" fill="#fff"/>
<rect x="590.5" y="3.4" width="28" height="16" rx="3" fill="#fff" stroke="#eeeff2" stroke-width="1"/>
<text x="593" y="14.4" font-size="7.6" fill="#131722" text-anchor="start" font-weight="normal" stroke="#131722" stroke-width="0.1" textLength="12.6" lengthAdjust="spacingAndGlyphs">USD</text>
<path d="M612.7,10.8 L614.4,12.4 L616.1,10.8" fill="none" stroke="#131722" stroke-width="1"/>
<rect x="588.7" y="138" width="26.8" height="19.3" rx="1.2" fill="#089981"/>
<text x="593.7" y="146.4" font-size="8.1" fill="#fff" stroke="#fff" stroke-width="0.25" textLength="17.6" lengthAdjust="spacingAndGlyphs">75.01</text>
<text x="593.7" y="155.2" font-size="8.1" fill="#d9f1ec" text-anchor="start" font-weight="normal" stroke="#d9f1ec" stroke-width="0.1" textLength="18" lengthAdjust="spacingAndGlyphs">00:19</text>
<text x="115.3" y="417.7" font-size="7.5" fill="#131722" text-anchor="middle" font-weight="bold" textLength="16.6" lengthAdjust="spacingAndGlyphs">2007</text>
<text x="160.42" y="417.7" font-size="7.5" fill="#131722" text-anchor="middle" font-weight="bold" textLength="16.6" lengthAdjust="spacingAndGlyphs">2009</text>
<text x="205.54" y="417.7" font-size="7.5" fill="#131722" text-anchor="middle" font-weight="bold" textLength="16.6" lengthAdjust="spacingAndGlyphs">2011</text>
<text x="250.66" y="417.7" font-size="7.5" fill="#131722" text-anchor="middle" font-weight="bold" textLength="16.6" lengthAdjust="spacingAndGlyphs">2013</text>
<text x="295.78" y="417.7" font-size="7.5" fill="#131722" text-anchor="middle" font-weight="bold" textLength="16.6" lengthAdjust="spacingAndGlyphs">2015</text>
<text x="340.9" y="417.7" font-size="7.5" fill="#131722" text-anchor="middle" font-weight="bold" textLength="16.6" lengthAdjust="spacingAndGlyphs">2017</text>
<text x="386.02" y="417.7" font-size="7.5" fill="#131722" text-anchor="middle" font-weight="bold" textLength="16.6" lengthAdjust="spacingAndGlyphs">2019</text>
<text x="431.14" y="417.7" font-size="7.5" fill="#131722" text-anchor="middle" font-weight="bold" textLength="16.6" lengthAdjust="spacingAndGlyphs">2021</text>
<text x="476.26" y="417.7" font-size="7.5" fill="#131722" text-anchor="middle" font-weight="bold" textLength="16.6" lengthAdjust="spacingAndGlyphs">2023</text>
<text x="521.38" y="417.7" font-size="7.5" fill="#131722" text-anchor="middle" font-weight="bold" textLength="16.6" lengthAdjust="spacingAndGlyphs">2025</text>
<text x="566.5" y="417.7" font-size="7.5" fill="#131722" text-anchor="middle" font-weight="bold" textLength="16.6" lengthAdjust="spacingAndGlyphs">2027</text>
<path d="M601,415.1 L603.1,411.5 Q603.3,411.2 603.7,411.2 L607.3,411.2 Q607.7,411.2 607.9,411.5 L610,415.1 L607.9,418.7 Q607.7,419 607.3,419 L603.7,419 Q603.3,419 603.1,418.7 Z" fill="none" stroke="#131722" stroke-width="1" stroke-linejoin="round"/>
<circle cx="605.5" cy="415.1" r="1.4" fill="none" stroke="#131722" stroke-width="0.9"/>
<text x="294.4" y="311.38" font-size="8.1" fill="#787b86" text-anchor="end" font-weight="normal" stroke="#787b86" stroke-width="0.1" textLength="30.0" lengthAdjust="spacingAndGlyphs">0 (10.89)</text>
<text x="294.4" y="287.72" font-size="8.1" fill="#f23645" text-anchor="end" font-weight="normal" stroke="#f23645" stroke-width="0.1" textLength="44.2" lengthAdjust="spacingAndGlyphs">0.236 (19.68)</text>
<text x="294.4" y="273.1" font-size="8.1" fill="#81c784" text-anchor="end" font-weight="normal" stroke="#81c784" stroke-width="0.1" textLength="44.2" lengthAdjust="spacingAndGlyphs">0.382 (25.11)</text>
<text x="294.4" y="261.26" font-size="8.1" fill="#4caf50" text-anchor="end" font-weight="normal" stroke="#4caf50" stroke-width="0.1" textLength="36.5" lengthAdjust="spacingAndGlyphs">0.5 (29.51)</text>
<text x="294.4" y="249.44" font-size="8.1" fill="#089981" text-anchor="end" font-weight="normal" stroke="#089981" stroke-width="0.1" textLength="44.2" lengthAdjust="spacingAndGlyphs">0.618 (33.90)</text>
<text x="294.4" y="232.59" font-size="8.1" fill="#64b5f6" text-anchor="end" font-weight="normal" stroke="#64b5f6" stroke-width="0.1" textLength="44.2" lengthAdjust="spacingAndGlyphs">0.786 (40.16)</text>
<text x="294.4" y="149.19" font-size="8.1" fill="#2962ff" text-anchor="end" font-weight="normal" stroke="#2962ff" stroke-width="0.1" textLength="44.0" lengthAdjust="spacingAndGlyphs">1.618 (71.14)</text>
<text x="294.4" y="48.97" font-size="8.1" fill="#f23645" text-anchor="end" font-weight="normal" stroke="#f23645" stroke-width="0.1" textLength="48.3" lengthAdjust="spacingAndGlyphs">2.618 (108.37)</text>
<path d="M10.6,5.1 H17.6 V15.9 H10.6 A5.4,5.4 0 0 1 10.6,5.1 Z" fill="#daf1eb"/>
<path d="M17.6,5.1 H24.6 A5.4,5.4 0 0 1 24.6,15.9 H17.6 Z" fill="#fbd9e4"/>
<circle cx="12.2" cy="10.6" r="2.7" fill="#089981"/>
<path d="M20.5,9.8 q1.4,-1.6 2.8,0 t2.8,0 M20.5,12.2 q1.4,-1.6 2.8,0 t2.8,0" fill="none" stroke="#e0336b" stroke-width="1.15"/>
<text x="34.8" y="13.6" font-size="8.1" fill="#131722" text-anchor="start" font-weight="normal" stroke="#131722" stroke-width="0.1" textLength="4.9" lengthAdjust="spacingAndGlyphs">O</text>
<text x="39.9" y="13.6" font-size="8.1" fill="#089981" text-anchor="start" font-weight="normal" stroke="#089981" stroke-width="0.1" textLength="21.1" lengthAdjust="spacingAndGlyphs">67.30</text>
<text x="64.8" y="13.6" font-size="8.1" fill="#131722" text-anchor="start" font-weight="normal" stroke="#131722" stroke-width="0.1" textLength="4.9" lengthAdjust="spacingAndGlyphs">H</text>
<text x="70.2" y="13.6" font-size="8.1" fill="#089981" text-anchor="start" font-weight="normal" stroke="#089981" stroke-width="0.1" textLength="24.2" lengthAdjust="spacingAndGlyphs">109.83</text>
<text x="99" y="13.6" font-size="8.1" fill="#131722" text-anchor="start" font-weight="normal" stroke="#131722" stroke-width="0.1" textLength="3.6" lengthAdjust="spacingAndGlyphs">L</text>
<text x="103" y="13.6" font-size="8.1" fill="#089981" text-anchor="start" font-weight="normal" stroke="#089981" stroke-width="0.1" textLength="20.0" lengthAdjust="spacingAndGlyphs">64.75</text>
<text x="127.3" y="13.6" font-size="8.1" fill="#131722" text-anchor="start" font-weight="normal" stroke="#131722" stroke-width="0.1" textLength="4.2" lengthAdjust="spacingAndGlyphs">C</text>
<text x="131.8" y="13.6" font-size="8.1" fill="#089981" text-anchor="start" font-weight="normal" stroke="#089981" stroke-width="0.1" textLength="19.6" lengthAdjust="spacingAndGlyphs">75.01</text>
<text x="156.6" y="13.6" font-size="8.1" fill="#089981" text-anchor="start" font-weight="normal" stroke="#089981" stroke-width="0.1" textLength="23.1" lengthAdjust="spacingAndGlyphs">+10.59</text>
<text x="182.8" y="13.6" font-size="8.1" fill="#089981" text-anchor="start" font-weight="normal" stroke="#089981" stroke-width="0.1" textLength="34.0" lengthAdjust="spacingAndGlyphs">(+16.44%)</text>
<rect x="5.6" y="21.4" width="33" height="19.9" rx="3" fill="#fff" stroke="#f23645" stroke-width="1" stroke-opacity="0.8"/>
<text x="22.05" y="29.7" font-size="8.1" fill="#f23645" stroke="#f23645" stroke-width="0.3" text-anchor="middle" textLength="18.9" lengthAdjust="spacingAndGlyphs">75.01</text>
<text x="22" y="38.3" font-size="6.8" fill="#f23645" text-anchor="middle" font-weight="normal" stroke="#f23645" stroke-width="0.1" textLength="14.5" lengthAdjust="spacingAndGlyphs">SELL</text>
<text x="44" y="33.6" font-size="6.4" fill="#131722" text-anchor="start" font-weight="normal" stroke="#131722" stroke-width="0.1" textLength="12" lengthAdjust="spacingAndGlyphs">0.00</text>
<rect x="61.6" y="21.4" width="33" height="19.9" rx="3" fill="#fff" stroke="#2962ff" stroke-width="1" stroke-opacity="0.8"/>
<text x="78.05" y="29.7" font-size="8.1" fill="#2962ff" stroke="#2962ff" stroke-width="0.3" text-anchor="middle" textLength="18.9" lengthAdjust="spacingAndGlyphs">75.01</text>
<text x="78" y="38.3" font-size="6.8" fill="#2962ff" text-anchor="middle" font-weight="normal" stroke="#2962ff" stroke-width="0.1" textLength="12.2" lengthAdjust="spacingAndGlyphs">BUY</text>
<rect x="5.6" y="46.9" width="19" height="11.3" rx="2" fill="#fff" stroke="#e0e3eb" stroke-width="1"/>
<path d="M9.9,51.3 L12.1,53.4 L14.3,51.3" fill="none" stroke="#131722" stroke-width="1.1"/>
<text x="18.1" y="55.3" font-size="8.0" fill="#131722" text-anchor="start" font-weight="normal" stroke="#131722" stroke-width="0.1" textLength="3.4" lengthAdjust="spacingAndGlyphs">3</text>
<rect x="54.8" y="42" width="126.2" height="71" fill="#fff" stroke="#000" stroke-width="1.6"/>
<path d="M181,40.8 H201.5 V37.6 L220.4,44.7 L201.5,51.9 V48.2 H181 Z" fill="#fff" stroke="#000" stroke-width="1.5" stroke-linejoin="miter"/>
<text x="68.6" y="61.3" font-size="13.2" fill="#111" text-anchor="start" font-weight="bold" textLength="108.2" lengthAdjust="spacingAndGlyphs">261.8% Fib Target</text>
<text x="68.6" y="79.2" font-size="13.2" fill="#111" text-anchor="start" font-weight="bold" textLength="94" lengthAdjust="spacingAndGlyphs">Achieved (from</text>
<text x="68.6" y="97.0" font-size="13.2" fill="#111" text-anchor="start" font-weight="bold" textLength="65.5" lengthAdjust="spacingAndGlyphs">2011 bear)</text>
<g transform="translate(7.7,386.4) scale(0.52)" fill="#131722"><path d="M14 22H7V11H0V4h14v18zM28 22h-8l7.5-18h8L28 22z"/><circle cx="20" cy="8" r="4"/></g>
<text x="31" y="397" font-size="12.3" fill="#131722" stroke="#131722" stroke-width="0.45" textLength="74.5" lengthAdjust="spacingAndGlyphs">TradingView</text>
<rect x="0" y="0" width="620" height="0.8" fill="#ebebeb"/>
</svg>
</body></html>
